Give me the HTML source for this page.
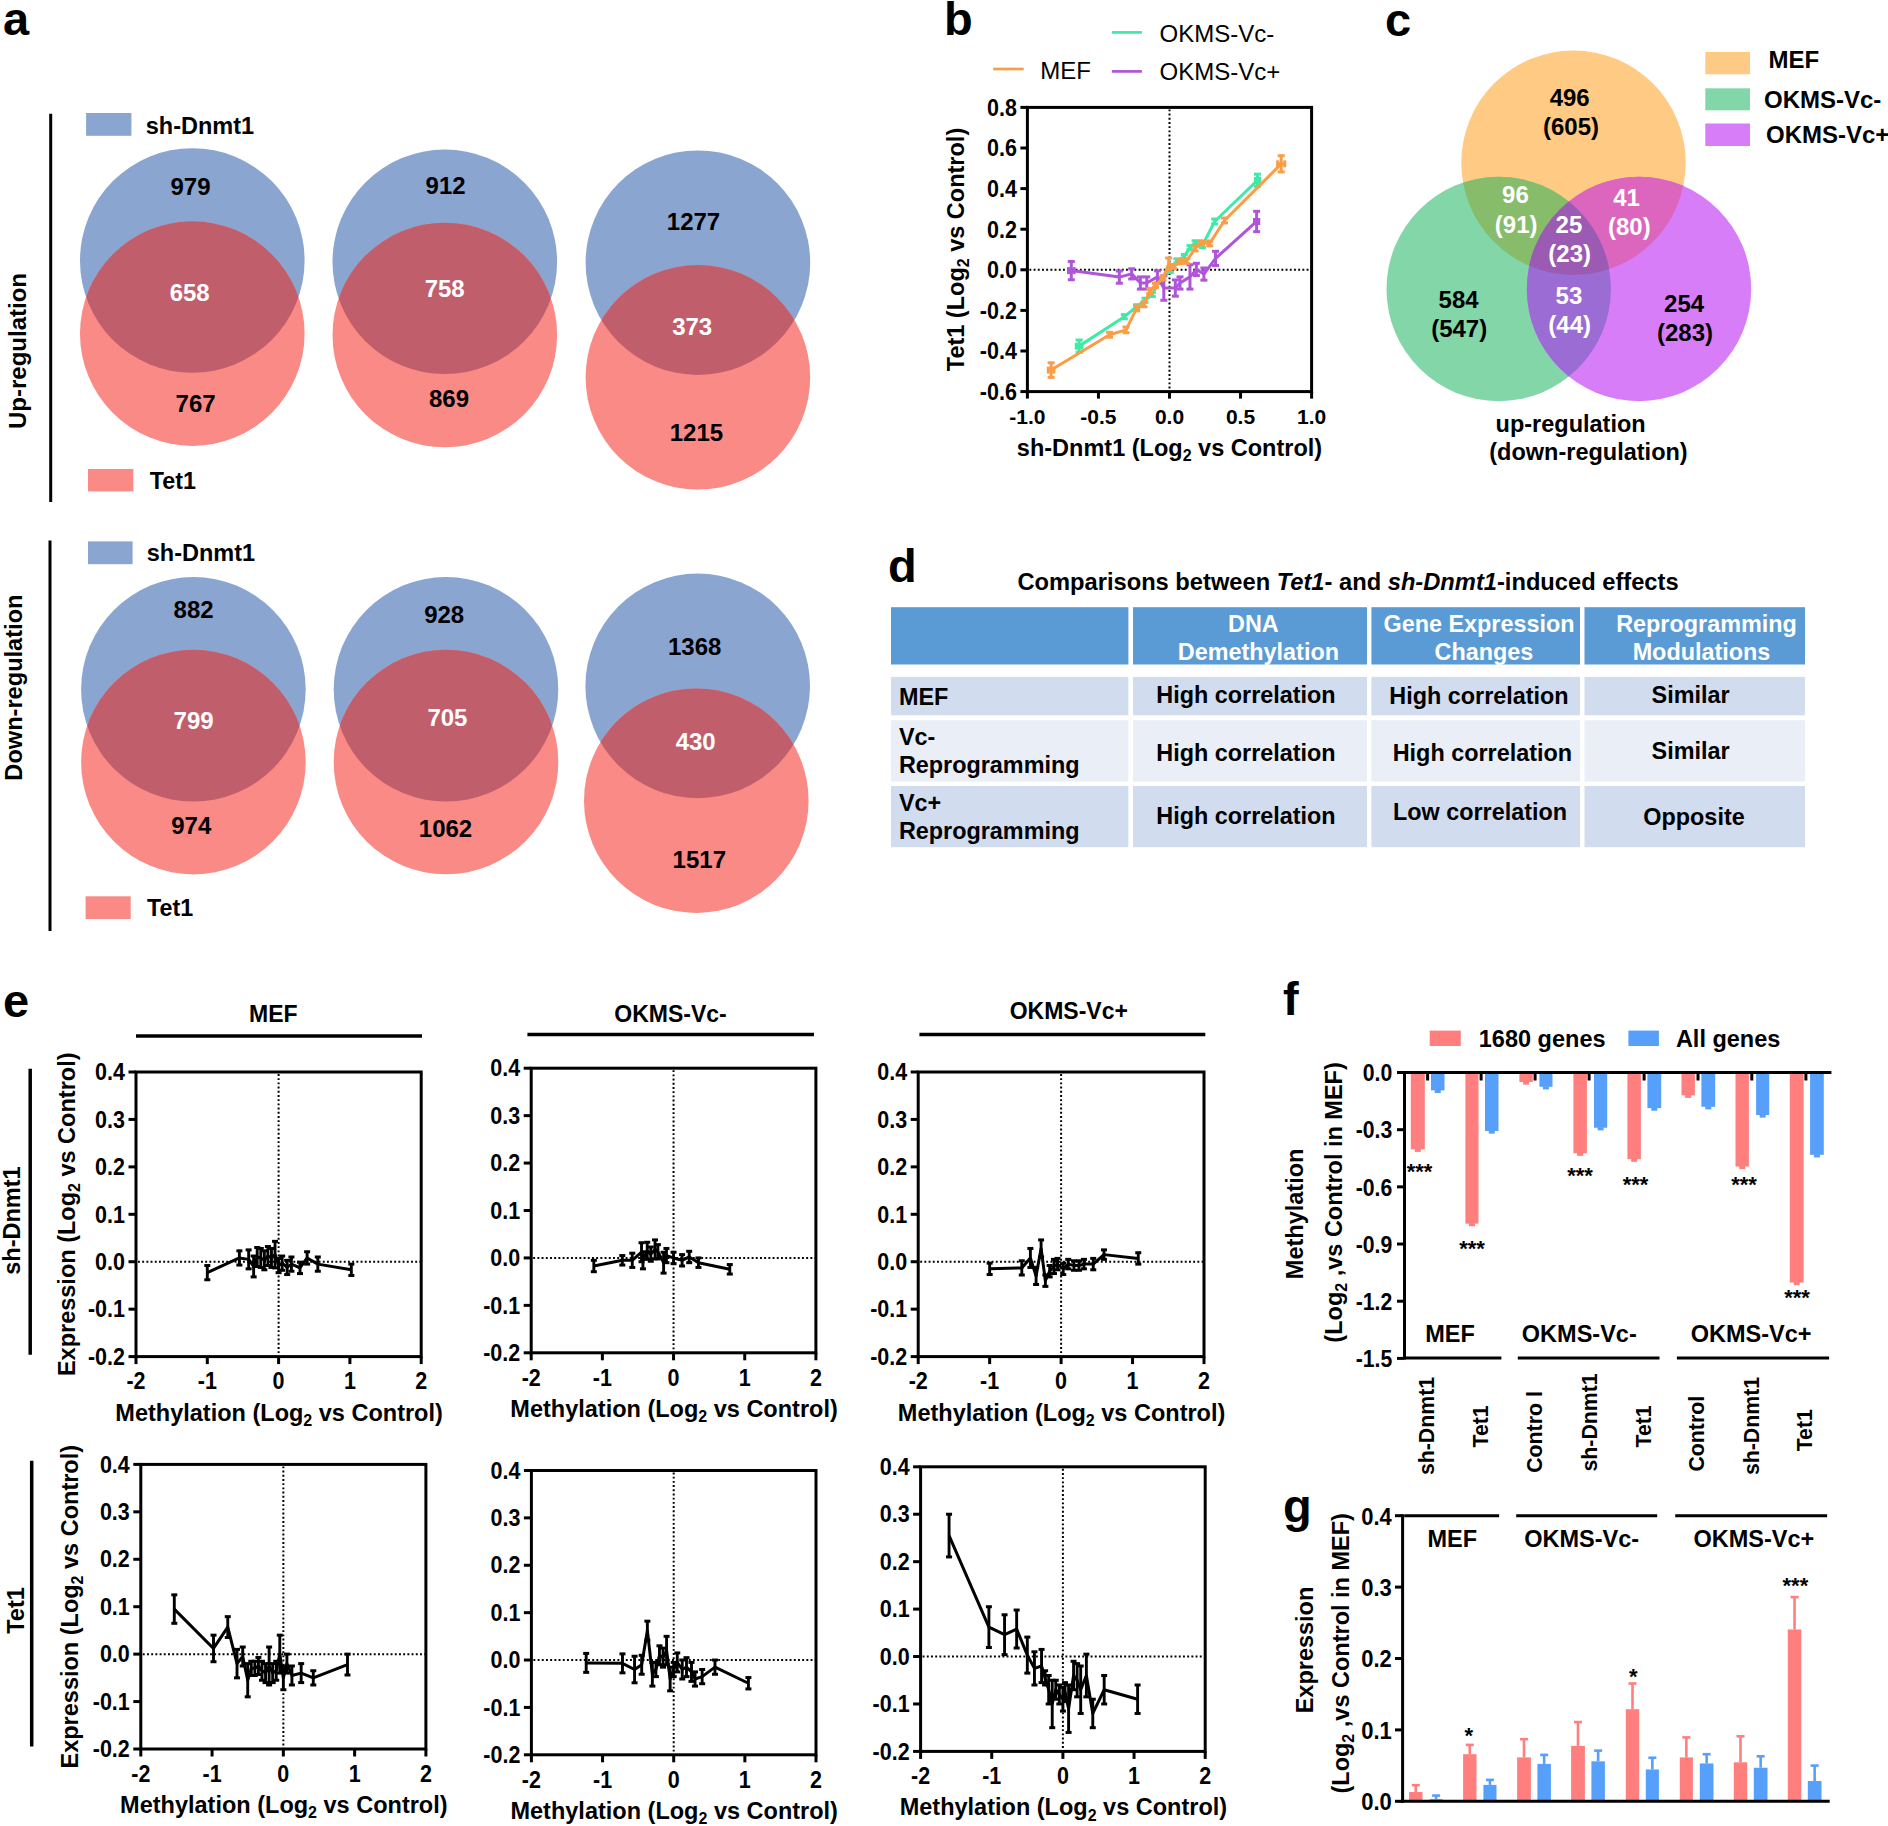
<!DOCTYPE html>
<html><head><meta charset="utf-8"><title>Figure</title>
<style>
html,body{margin:0;padding:0;background:#fff;}
body{width:1888px;height:1826px;overflow:hidden;}
svg{display:block;font-family:"Liberation Sans", Arial, sans-serif;}
</style></head><body>
<svg width="1888" height="1826" viewBox="0 0 1888 1826">
<rect width="1888" height="1826" fill="#fff"/>
<text x="3.00" y="35.30" font-size="47" font-weight="bold" text-anchor="start" fill="#000">a</text>
<line x1="50.70" y1="113.70" x2="50.70" y2="502.00" stroke="#000" stroke-width="3"/>
<text x="25.59" y="351.00" font-size="24" font-weight="bold" text-anchor="middle" fill="#000" transform="rotate(-90 25.59 351.00)">Up-regulation</text>
<rect x="86.10" y="113.00" width="45.30" height="22.80" fill="#8AA5CF"/>
<text x="145.80" y="133.70" font-size="23.5" font-weight="bold" text-anchor="start" fill="#000">sh-Dnmt1</text>
<rect x="88.00" y="469.00" width="45.30" height="22.40" fill="#F98A86"/>
<text x="149.80" y="489.14" font-size="23.3" font-weight="bold" text-anchor="start" fill="#000">Tet1</text>
<circle cx="192.30" cy="260.50" r="112.30" fill="#8AA5CF"/>
<circle cx="192.30" cy="333.60" r="112.30" fill="#F98A86"/>
<clipPath id="cp1"><circle cx="192.30" cy="260.50" r="112.30"/></clipPath>
<circle cx="192.30" cy="333.60" r="112.30" fill="#C05E6C" clip-path="url(#cp1)"/>
<circle cx="444.80" cy="261.80" r="112.30" fill="#8AA5CF"/>
<circle cx="444.80" cy="335.00" r="112.30" fill="#F98A86"/>
<clipPath id="cp2"><circle cx="444.80" cy="261.80" r="112.30"/></clipPath>
<circle cx="444.80" cy="335.00" r="112.30" fill="#C05E6C" clip-path="url(#cp2)"/>
<circle cx="697.90" cy="262.70" r="112.30" fill="#8AA5CF"/>
<circle cx="697.90" cy="377.30" r="112.30" fill="#F98A86"/>
<clipPath id="cp3"><circle cx="697.90" cy="262.70" r="112.30"/></clipPath>
<circle cx="697.90" cy="377.30" r="112.30" fill="#C05E6C" clip-path="url(#cp3)"/>
<text x="190.50" y="194.99" font-size="24" font-weight="bold" text-anchor="middle" fill="#000">979</text>
<text x="189.70" y="301.29" font-size="24" font-weight="bold" text-anchor="middle" fill="#fff">658</text>
<text x="195.60" y="411.89" font-size="24" font-weight="bold" text-anchor="middle" fill="#000">767</text>
<text x="445.60" y="193.59" font-size="24" font-weight="bold" text-anchor="middle" fill="#000">912</text>
<text x="444.70" y="297.49" font-size="24" font-weight="bold" text-anchor="middle" fill="#fff">758</text>
<text x="449.00" y="406.79" font-size="24" font-weight="bold" text-anchor="middle" fill="#000">869</text>
<text x="693.50" y="229.59" font-size="24" font-weight="bold" text-anchor="middle" fill="#000">1277</text>
<text x="692.20" y="334.79" font-size="24" font-weight="bold" text-anchor="middle" fill="#fff">373</text>
<text x="696.40" y="440.69" font-size="24" font-weight="bold" text-anchor="middle" fill="#000">1215</text>
<line x1="50.00" y1="540.50" x2="50.00" y2="931.00" stroke="#000" stroke-width="3"/>
<text x="21.65" y="687.60" font-size="23.6" font-weight="bold" text-anchor="middle" fill="#000" transform="rotate(-90 21.65 687.60)">Down-regulation</text>
<rect x="88.00" y="541.40" width="44.60" height="22.80" fill="#8AA5CF"/>
<text x="146.80" y="561.41" font-size="23.5" font-weight="bold" text-anchor="start" fill="#000">sh-Dnmt1</text>
<rect x="85.60" y="896.30" width="45.10" height="22.70" fill="#F98A86"/>
<text x="147.10" y="916.34" font-size="23.3" font-weight="bold" text-anchor="start" fill="#000">Tet1</text>
<circle cx="193.40" cy="689.30" r="112.30" fill="#8AA5CF"/>
<circle cx="193.40" cy="762.10" r="112.30" fill="#F98A86"/>
<clipPath id="cp4"><circle cx="193.40" cy="689.30" r="112.30"/></clipPath>
<circle cx="193.40" cy="762.10" r="112.30" fill="#C05E6C" clip-path="url(#cp4)"/>
<circle cx="446.00" cy="689.30" r="112.30" fill="#8AA5CF"/>
<circle cx="446.00" cy="762.00" r="112.30" fill="#F98A86"/>
<clipPath id="cp5"><circle cx="446.00" cy="689.30" r="112.30"/></clipPath>
<circle cx="446.00" cy="762.00" r="112.30" fill="#C05E6C" clip-path="url(#cp5)"/>
<circle cx="697.70" cy="685.90" r="112.30" fill="#8AA5CF"/>
<circle cx="696.30" cy="800.70" r="112.30" fill="#F98A86"/>
<clipPath id="cp6"><circle cx="697.70" cy="685.90" r="112.30"/></clipPath>
<circle cx="696.30" cy="800.70" r="112.30" fill="#C05E6C" clip-path="url(#cp6)"/>
<text x="193.60" y="618.29" font-size="24" font-weight="bold" text-anchor="middle" fill="#000">882</text>
<text x="193.60" y="728.99" font-size="24" font-weight="bold" text-anchor="middle" fill="#fff">799</text>
<text x="191.30" y="833.79" font-size="24" font-weight="bold" text-anchor="middle" fill="#000">974</text>
<text x="444.20" y="623.39" font-size="24" font-weight="bold" text-anchor="middle" fill="#000">928</text>
<text x="447.40" y="725.89" font-size="24" font-weight="bold" text-anchor="middle" fill="#fff">705</text>
<text x="445.50" y="836.99" font-size="24" font-weight="bold" text-anchor="middle" fill="#000">1062</text>
<text x="694.70" y="655.19" font-size="24" font-weight="bold" text-anchor="middle" fill="#000">1368</text>
<text x="695.70" y="750.49" font-size="24" font-weight="bold" text-anchor="middle" fill="#fff">430</text>
<text x="699.30" y="867.99" font-size="24" font-weight="bold" text-anchor="middle" fill="#000">1517</text>
<text x="944.00" y="34.50" font-size="47" font-weight="bold" text-anchor="start" fill="#000">b</text>
<line x1="993.20" y1="69.00" x2="1023.70" y2="69.00" stroke="#FA9D46" stroke-width="2.7"/>
<text x="1040.20" y="78.60" font-size="24" font-weight="normal" text-anchor="start" fill="#000">MEF</text>
<line x1="1111.90" y1="32.40" x2="1141.90" y2="32.40" stroke="#3EEAA6" stroke-width="2.7"/>
<text x="1159.50" y="42.20" font-size="24" font-weight="normal" text-anchor="start" fill="#000">OKMS-Vc-</text>
<line x1="1111.90" y1="71.40" x2="1141.90" y2="71.40" stroke="#AE55D9" stroke-width="2.7"/>
<text x="1159.50" y="80.30" font-size="24" font-weight="normal" text-anchor="start" fill="#000">OKMS-Vc+</text>
<line x1="1169.50" y1="109.40" x2="1169.50" y2="390.60" stroke="#000" stroke-width="2" stroke-dasharray="1.9 2.3"/>
<line x1="1029.40" y1="269.80" x2="1310.60" y2="269.80" stroke="#000" stroke-width="2" stroke-dasharray="1.9 2.3"/>
<rect x="1027.40" y="107.40" width="284.20" height="284.20" fill="none" stroke="#000" stroke-width="3"/>
<line x1="1020.40" y1="107.40" x2="1027.40" y2="107.40" stroke="#000" stroke-width="3"/>
<text x="1016.90" y="115.10" font-size="21.5" font-weight="bold" text-anchor="end" fill="#000" transform="matrix(1 0 0 1.08 0 -8.592)">0.8</text>
<line x1="1020.40" y1="148.00" x2="1027.40" y2="148.00" stroke="#000" stroke-width="3"/>
<text x="1016.90" y="155.70" font-size="21.5" font-weight="bold" text-anchor="end" fill="#000" transform="matrix(1 0 0 1.08 0 -11.840)">0.6</text>
<line x1="1020.40" y1="188.60" x2="1027.40" y2="188.60" stroke="#000" stroke-width="3"/>
<text x="1016.90" y="196.30" font-size="21.5" font-weight="bold" text-anchor="end" fill="#000" transform="matrix(1 0 0 1.08 0 -15.088)">0.4</text>
<line x1="1020.40" y1="229.20" x2="1027.40" y2="229.20" stroke="#000" stroke-width="3"/>
<text x="1016.90" y="236.90" font-size="21.5" font-weight="bold" text-anchor="end" fill="#000" transform="matrix(1 0 0 1.08 0 -18.336)">0.2</text>
<line x1="1020.40" y1="269.80" x2="1027.40" y2="269.80" stroke="#000" stroke-width="3"/>
<text x="1016.90" y="277.50" font-size="21.5" font-weight="bold" text-anchor="end" fill="#000" transform="matrix(1 0 0 1.08 0 -21.584)">0.0</text>
<line x1="1020.40" y1="310.40" x2="1027.40" y2="310.40" stroke="#000" stroke-width="3"/>
<text x="1016.90" y="318.10" font-size="21.5" font-weight="bold" text-anchor="end" fill="#000" transform="matrix(1 0 0 1.08 0 -24.832)">-0.2</text>
<line x1="1020.40" y1="351.00" x2="1027.40" y2="351.00" stroke="#000" stroke-width="3"/>
<text x="1016.90" y="358.70" font-size="21.5" font-weight="bold" text-anchor="end" fill="#000" transform="matrix(1 0 0 1.08 0 -28.080)">-0.4</text>
<line x1="1020.40" y1="391.60" x2="1027.40" y2="391.60" stroke="#000" stroke-width="3"/>
<text x="1016.90" y="399.30" font-size="21.5" font-weight="bold" text-anchor="end" fill="#000" transform="matrix(1 0 0 1.08 0 -31.328)">-0.6</text>
<line x1="1027.40" y1="391.60" x2="1027.40" y2="398.60" stroke="#000" stroke-width="3"/>
<text x="1027.40" y="423.80" font-size="21" font-weight="bold" text-anchor="middle" fill="#000">-1.0</text>
<line x1="1098.45" y1="391.60" x2="1098.45" y2="398.60" stroke="#000" stroke-width="3"/>
<text x="1098.45" y="423.80" font-size="21" font-weight="bold" text-anchor="middle" fill="#000">-0.5</text>
<line x1="1169.50" y1="391.60" x2="1169.50" y2="398.60" stroke="#000" stroke-width="3"/>
<text x="1169.50" y="423.80" font-size="21" font-weight="bold" text-anchor="middle" fill="#000">0.0</text>
<line x1="1240.55" y1="391.60" x2="1240.55" y2="398.60" stroke="#000" stroke-width="3"/>
<text x="1240.55" y="423.80" font-size="21" font-weight="bold" text-anchor="middle" fill="#000">0.5</text>
<line x1="1311.60" y1="391.60" x2="1311.60" y2="398.60" stroke="#000" stroke-width="3"/>
<text x="1311.60" y="423.80" font-size="21" font-weight="bold" text-anchor="middle" fill="#000">1.0</text>
<path d="M1079.12,346.13 L1124.31,316.69 L1136.67,306.75 L1144.92,300.25 L1152.31,294.57 L1159.55,279.75 L1170.35,270.61 L1176.89,260.87 L1184.28,256.61 L1189.96,247.67 L1195.08,242.80 L1202.47,245.24 L1214.69,221.49 L1257.46,180.28" fill="none" stroke="#3EEAA6" stroke-width="3" stroke-linejoin="round"/>
<line x1="1079.12" y1="340.04" x2="1079.12" y2="352.22" stroke="#3EEAA6" stroke-width="3"/>
<line x1="1075.62" y1="340.04" x2="1082.62" y2="340.04" stroke="#3EEAA6" stroke-width="3"/>
<line x1="1075.62" y1="352.22" x2="1082.62" y2="352.22" stroke="#3EEAA6" stroke-width="3"/>
<line x1="1076.28" y1="346.13" x2="1081.97" y2="346.13" stroke="#3EEAA6" stroke-width="3"/>
<line x1="1076.28" y1="342.63" x2="1076.28" y2="349.63" stroke="#3EEAA6" stroke-width="3"/>
<line x1="1081.97" y1="342.63" x2="1081.97" y2="349.63" stroke="#3EEAA6" stroke-width="3"/>
<line x1="1124.31" y1="314.66" x2="1124.31" y2="318.72" stroke="#3EEAA6" stroke-width="3"/>
<line x1="1120.81" y1="314.66" x2="1127.81" y2="314.66" stroke="#3EEAA6" stroke-width="3"/>
<line x1="1120.81" y1="318.72" x2="1127.81" y2="318.72" stroke="#3EEAA6" stroke-width="3"/>
<line x1="1136.67" y1="304.72" x2="1136.67" y2="308.78" stroke="#3EEAA6" stroke-width="3"/>
<line x1="1133.17" y1="304.72" x2="1140.17" y2="304.72" stroke="#3EEAA6" stroke-width="3"/>
<line x1="1133.17" y1="308.78" x2="1140.17" y2="308.78" stroke="#3EEAA6" stroke-width="3"/>
<line x1="1144.92" y1="298.22" x2="1144.92" y2="302.28" stroke="#3EEAA6" stroke-width="3"/>
<line x1="1141.42" y1="298.22" x2="1148.42" y2="298.22" stroke="#3EEAA6" stroke-width="3"/>
<line x1="1141.42" y1="302.28" x2="1148.42" y2="302.28" stroke="#3EEAA6" stroke-width="3"/>
<line x1="1152.31" y1="292.54" x2="1152.31" y2="296.60" stroke="#3EEAA6" stroke-width="3"/>
<line x1="1148.81" y1="292.54" x2="1155.81" y2="292.54" stroke="#3EEAA6" stroke-width="3"/>
<line x1="1148.81" y1="296.60" x2="1155.81" y2="296.60" stroke="#3EEAA6" stroke-width="3"/>
<line x1="1159.55" y1="277.72" x2="1159.55" y2="281.78" stroke="#3EEAA6" stroke-width="3"/>
<line x1="1156.05" y1="277.72" x2="1163.05" y2="277.72" stroke="#3EEAA6" stroke-width="3"/>
<line x1="1156.05" y1="281.78" x2="1163.05" y2="281.78" stroke="#3EEAA6" stroke-width="3"/>
<line x1="1170.35" y1="268.58" x2="1170.35" y2="272.64" stroke="#3EEAA6" stroke-width="3"/>
<line x1="1166.85" y1="268.58" x2="1173.85" y2="268.58" stroke="#3EEAA6" stroke-width="3"/>
<line x1="1166.85" y1="272.64" x2="1173.85" y2="272.64" stroke="#3EEAA6" stroke-width="3"/>
<line x1="1176.89" y1="258.84" x2="1176.89" y2="262.90" stroke="#3EEAA6" stroke-width="3"/>
<line x1="1173.39" y1="258.84" x2="1180.39" y2="258.84" stroke="#3EEAA6" stroke-width="3"/>
<line x1="1173.39" y1="262.90" x2="1180.39" y2="262.90" stroke="#3EEAA6" stroke-width="3"/>
<line x1="1184.28" y1="254.57" x2="1184.28" y2="258.63" stroke="#3EEAA6" stroke-width="3"/>
<line x1="1180.78" y1="254.57" x2="1187.78" y2="254.57" stroke="#3EEAA6" stroke-width="3"/>
<line x1="1180.78" y1="258.63" x2="1187.78" y2="258.63" stroke="#3EEAA6" stroke-width="3"/>
<line x1="1189.96" y1="245.64" x2="1189.96" y2="249.70" stroke="#3EEAA6" stroke-width="3"/>
<line x1="1186.46" y1="245.64" x2="1193.46" y2="245.64" stroke="#3EEAA6" stroke-width="3"/>
<line x1="1186.46" y1="249.70" x2="1193.46" y2="249.70" stroke="#3EEAA6" stroke-width="3"/>
<line x1="1195.08" y1="240.77" x2="1195.08" y2="244.83" stroke="#3EEAA6" stroke-width="3"/>
<line x1="1191.58" y1="240.77" x2="1198.58" y2="240.77" stroke="#3EEAA6" stroke-width="3"/>
<line x1="1191.58" y1="244.83" x2="1198.58" y2="244.83" stroke="#3EEAA6" stroke-width="3"/>
<line x1="1202.47" y1="242.80" x2="1202.47" y2="247.67" stroke="#3EEAA6" stroke-width="3"/>
<line x1="1198.97" y1="242.80" x2="1205.97" y2="242.80" stroke="#3EEAA6" stroke-width="3"/>
<line x1="1198.97" y1="247.67" x2="1205.97" y2="247.67" stroke="#3EEAA6" stroke-width="3"/>
<line x1="1214.69" y1="219.05" x2="1214.69" y2="223.92" stroke="#3EEAA6" stroke-width="3"/>
<line x1="1211.19" y1="219.05" x2="1218.19" y2="219.05" stroke="#3EEAA6" stroke-width="3"/>
<line x1="1211.19" y1="223.92" x2="1218.19" y2="223.92" stroke="#3EEAA6" stroke-width="3"/>
<line x1="1257.46" y1="174.19" x2="1257.46" y2="186.37" stroke="#3EEAA6" stroke-width="3"/>
<line x1="1253.96" y1="174.19" x2="1260.96" y2="174.19" stroke="#3EEAA6" stroke-width="3"/>
<line x1="1253.96" y1="186.37" x2="1260.96" y2="186.37" stroke="#3EEAA6" stroke-width="3"/>
<line x1="1255.33" y1="180.28" x2="1259.59" y2="180.28" stroke="#3EEAA6" stroke-width="3"/>
<line x1="1255.33" y1="176.78" x2="1255.33" y2="183.78" stroke="#3EEAA6" stroke-width="3"/>
<line x1="1259.59" y1="176.78" x2="1259.59" y2="183.78" stroke="#3EEAA6" stroke-width="3"/>
<path d="M1071.31,270.61 L1119.34,277.11 L1131.70,273.86 L1140.37,283.00 L1146.76,283.00 L1157.42,276.90 L1163.82,288.07 L1175.33,288.07 L1180.02,283.00 L1189.96,276.90 L1196.36,269.39 L1203.89,274.06 L1215.54,258.43 L1256.61,221.49" fill="none" stroke="#AE55D9" stroke-width="3" stroke-linejoin="round"/>
<line x1="1071.31" y1="261.48" x2="1071.31" y2="279.75" stroke="#AE55D9" stroke-width="3"/>
<line x1="1067.81" y1="261.48" x2="1074.81" y2="261.48" stroke="#AE55D9" stroke-width="3"/>
<line x1="1067.81" y1="279.75" x2="1074.81" y2="279.75" stroke="#AE55D9" stroke-width="3"/>
<line x1="1068.47" y1="270.61" x2="1074.15" y2="270.61" stroke="#AE55D9" stroke-width="3"/>
<line x1="1068.47" y1="267.11" x2="1068.47" y2="274.11" stroke="#AE55D9" stroke-width="3"/>
<line x1="1074.15" y1="267.11" x2="1074.15" y2="274.11" stroke="#AE55D9" stroke-width="3"/>
<line x1="1119.34" y1="271.02" x2="1119.34" y2="283.20" stroke="#AE55D9" stroke-width="3"/>
<line x1="1115.84" y1="271.02" x2="1122.84" y2="271.02" stroke="#AE55D9" stroke-width="3"/>
<line x1="1115.84" y1="283.20" x2="1122.84" y2="283.20" stroke="#AE55D9" stroke-width="3"/>
<line x1="1131.70" y1="268.78" x2="1131.70" y2="278.94" stroke="#AE55D9" stroke-width="3"/>
<line x1="1128.20" y1="268.78" x2="1135.20" y2="268.78" stroke="#AE55D9" stroke-width="3"/>
<line x1="1128.20" y1="278.94" x2="1135.20" y2="278.94" stroke="#AE55D9" stroke-width="3"/>
<line x1="1140.37" y1="276.90" x2="1140.37" y2="289.08" stroke="#AE55D9" stroke-width="3"/>
<line x1="1136.87" y1="276.90" x2="1143.87" y2="276.90" stroke="#AE55D9" stroke-width="3"/>
<line x1="1136.87" y1="289.08" x2="1143.87" y2="289.08" stroke="#AE55D9" stroke-width="3"/>
<line x1="1146.76" y1="276.90" x2="1146.76" y2="289.08" stroke="#AE55D9" stroke-width="3"/>
<line x1="1143.26" y1="276.90" x2="1150.26" y2="276.90" stroke="#AE55D9" stroke-width="3"/>
<line x1="1143.26" y1="289.08" x2="1150.26" y2="289.08" stroke="#AE55D9" stroke-width="3"/>
<line x1="1157.42" y1="270.81" x2="1157.42" y2="283.00" stroke="#AE55D9" stroke-width="3"/>
<line x1="1153.92" y1="270.81" x2="1160.92" y2="270.81" stroke="#AE55D9" stroke-width="3"/>
<line x1="1153.92" y1="283.00" x2="1160.92" y2="283.00" stroke="#AE55D9" stroke-width="3"/>
<line x1="1163.82" y1="275.89" x2="1163.82" y2="300.25" stroke="#AE55D9" stroke-width="3"/>
<line x1="1160.32" y1="275.89" x2="1167.32" y2="275.89" stroke="#AE55D9" stroke-width="3"/>
<line x1="1160.32" y1="300.25" x2="1167.32" y2="300.25" stroke="#AE55D9" stroke-width="3"/>
<line x1="1175.33" y1="279.95" x2="1175.33" y2="296.19" stroke="#AE55D9" stroke-width="3"/>
<line x1="1171.83" y1="279.95" x2="1178.83" y2="279.95" stroke="#AE55D9" stroke-width="3"/>
<line x1="1171.83" y1="296.19" x2="1178.83" y2="296.19" stroke="#AE55D9" stroke-width="3"/>
<line x1="1180.02" y1="276.90" x2="1180.02" y2="289.08" stroke="#AE55D9" stroke-width="3"/>
<line x1="1176.52" y1="276.90" x2="1183.52" y2="276.90" stroke="#AE55D9" stroke-width="3"/>
<line x1="1176.52" y1="289.08" x2="1183.52" y2="289.08" stroke="#AE55D9" stroke-width="3"/>
<line x1="1189.96" y1="264.73" x2="1189.96" y2="289.08" stroke="#AE55D9" stroke-width="3"/>
<line x1="1186.46" y1="264.73" x2="1193.46" y2="264.73" stroke="#AE55D9" stroke-width="3"/>
<line x1="1186.46" y1="289.08" x2="1193.46" y2="289.08" stroke="#AE55D9" stroke-width="3"/>
<line x1="1196.36" y1="263.30" x2="1196.36" y2="275.48" stroke="#AE55D9" stroke-width="3"/>
<line x1="1192.86" y1="263.30" x2="1199.86" y2="263.30" stroke="#AE55D9" stroke-width="3"/>
<line x1="1192.86" y1="275.48" x2="1199.86" y2="275.48" stroke="#AE55D9" stroke-width="3"/>
<line x1="1203.89" y1="267.97" x2="1203.89" y2="280.15" stroke="#AE55D9" stroke-width="3"/>
<line x1="1200.39" y1="267.97" x2="1207.39" y2="267.97" stroke="#AE55D9" stroke-width="3"/>
<line x1="1200.39" y1="280.15" x2="1207.39" y2="280.15" stroke="#AE55D9" stroke-width="3"/>
<line x1="1215.54" y1="251.33" x2="1215.54" y2="265.54" stroke="#AE55D9" stroke-width="3"/>
<line x1="1212.04" y1="251.33" x2="1219.04" y2="251.33" stroke="#AE55D9" stroke-width="3"/>
<line x1="1212.04" y1="265.54" x2="1219.04" y2="265.54" stroke="#AE55D9" stroke-width="3"/>
<line x1="1256.61" y1="211.34" x2="1256.61" y2="231.64" stroke="#AE55D9" stroke-width="3"/>
<line x1="1253.11" y1="211.34" x2="1260.11" y2="211.34" stroke="#AE55D9" stroke-width="3"/>
<line x1="1253.11" y1="231.64" x2="1260.11" y2="231.64" stroke="#AE55D9" stroke-width="3"/>
<line x1="1254.48" y1="221.49" x2="1258.74" y2="221.49" stroke="#AE55D9" stroke-width="3"/>
<line x1="1254.48" y1="217.99" x2="1254.48" y2="224.99" stroke="#AE55D9" stroke-width="3"/>
<line x1="1258.74" y1="217.99" x2="1258.74" y2="224.99" stroke="#AE55D9" stroke-width="3"/>
<path d="M1051.13,370.08 L1109.53,334.76 L1126.02,329.89 L1136.67,308.37 L1144.06,304.31 L1149.75,291.12 L1155.43,285.43 L1162.96,278.12 L1168.65,264.12 L1173.62,266.55 L1180.16,261.68 L1186.69,260.87 L1195.08,248.49 L1201.47,242.80 L1209.71,243.41 L1224.49,220.47 L1281.19,163.83" fill="none" stroke="#FA9D46" stroke-width="3" stroke-linejoin="round"/>
<line x1="1051.13" y1="362.77" x2="1051.13" y2="377.39" stroke="#FA9D46" stroke-width="3"/>
<line x1="1047.63" y1="362.77" x2="1054.63" y2="362.77" stroke="#FA9D46" stroke-width="3"/>
<line x1="1047.63" y1="377.39" x2="1054.63" y2="377.39" stroke="#FA9D46" stroke-width="3"/>
<line x1="1048.29" y1="370.08" x2="1053.97" y2="370.08" stroke="#FA9D46" stroke-width="3"/>
<line x1="1048.29" y1="366.58" x2="1048.29" y2="373.58" stroke="#FA9D46" stroke-width="3"/>
<line x1="1053.97" y1="366.58" x2="1053.97" y2="373.58" stroke="#FA9D46" stroke-width="3"/>
<line x1="1109.53" y1="332.32" x2="1109.53" y2="337.20" stroke="#FA9D46" stroke-width="3"/>
<line x1="1106.03" y1="332.32" x2="1113.03" y2="332.32" stroke="#FA9D46" stroke-width="3"/>
<line x1="1106.03" y1="337.20" x2="1113.03" y2="337.20" stroke="#FA9D46" stroke-width="3"/>
<line x1="1126.02" y1="327.05" x2="1126.02" y2="332.73" stroke="#FA9D46" stroke-width="3"/>
<line x1="1122.52" y1="327.05" x2="1129.52" y2="327.05" stroke="#FA9D46" stroke-width="3"/>
<line x1="1122.52" y1="332.73" x2="1129.52" y2="332.73" stroke="#FA9D46" stroke-width="3"/>
<line x1="1136.67" y1="305.93" x2="1136.67" y2="310.81" stroke="#FA9D46" stroke-width="3"/>
<line x1="1133.17" y1="305.93" x2="1140.17" y2="305.93" stroke="#FA9D46" stroke-width="3"/>
<line x1="1133.17" y1="310.81" x2="1140.17" y2="310.81" stroke="#FA9D46" stroke-width="3"/>
<line x1="1144.06" y1="301.87" x2="1144.06" y2="306.75" stroke="#FA9D46" stroke-width="3"/>
<line x1="1140.56" y1="301.87" x2="1147.56" y2="301.87" stroke="#FA9D46" stroke-width="3"/>
<line x1="1140.56" y1="306.75" x2="1147.56" y2="306.75" stroke="#FA9D46" stroke-width="3"/>
<line x1="1149.75" y1="288.68" x2="1149.75" y2="293.55" stroke="#FA9D46" stroke-width="3"/>
<line x1="1146.25" y1="288.68" x2="1153.25" y2="288.68" stroke="#FA9D46" stroke-width="3"/>
<line x1="1146.25" y1="293.55" x2="1153.25" y2="293.55" stroke="#FA9D46" stroke-width="3"/>
<line x1="1155.43" y1="283.40" x2="1155.43" y2="287.46" stroke="#FA9D46" stroke-width="3"/>
<line x1="1151.93" y1="283.40" x2="1158.93" y2="283.40" stroke="#FA9D46" stroke-width="3"/>
<line x1="1151.93" y1="287.46" x2="1158.93" y2="287.46" stroke="#FA9D46" stroke-width="3"/>
<line x1="1162.96" y1="276.09" x2="1162.96" y2="280.15" stroke="#FA9D46" stroke-width="3"/>
<line x1="1159.46" y1="276.09" x2="1166.46" y2="276.09" stroke="#FA9D46" stroke-width="3"/>
<line x1="1159.46" y1="280.15" x2="1166.46" y2="280.15" stroke="#FA9D46" stroke-width="3"/>
<line x1="1168.65" y1="258.03" x2="1168.65" y2="270.21" stroke="#FA9D46" stroke-width="3"/>
<line x1="1165.15" y1="258.03" x2="1172.15" y2="258.03" stroke="#FA9D46" stroke-width="3"/>
<line x1="1165.15" y1="270.21" x2="1172.15" y2="270.21" stroke="#FA9D46" stroke-width="3"/>
<line x1="1173.62" y1="264.52" x2="1173.62" y2="268.58" stroke="#FA9D46" stroke-width="3"/>
<line x1="1170.12" y1="264.52" x2="1177.12" y2="264.52" stroke="#FA9D46" stroke-width="3"/>
<line x1="1170.12" y1="268.58" x2="1177.12" y2="268.58" stroke="#FA9D46" stroke-width="3"/>
<line x1="1180.16" y1="259.65" x2="1180.16" y2="263.71" stroke="#FA9D46" stroke-width="3"/>
<line x1="1176.66" y1="259.65" x2="1183.66" y2="259.65" stroke="#FA9D46" stroke-width="3"/>
<line x1="1176.66" y1="263.71" x2="1183.66" y2="263.71" stroke="#FA9D46" stroke-width="3"/>
<line x1="1186.69" y1="258.43" x2="1186.69" y2="263.30" stroke="#FA9D46" stroke-width="3"/>
<line x1="1183.19" y1="258.43" x2="1190.19" y2="258.43" stroke="#FA9D46" stroke-width="3"/>
<line x1="1183.19" y1="263.30" x2="1190.19" y2="263.30" stroke="#FA9D46" stroke-width="3"/>
<line x1="1195.08" y1="246.05" x2="1195.08" y2="250.92" stroke="#FA9D46" stroke-width="3"/>
<line x1="1191.58" y1="246.05" x2="1198.58" y2="246.05" stroke="#FA9D46" stroke-width="3"/>
<line x1="1191.58" y1="250.92" x2="1198.58" y2="250.92" stroke="#FA9D46" stroke-width="3"/>
<line x1="1201.47" y1="240.77" x2="1201.47" y2="244.83" stroke="#FA9D46" stroke-width="3"/>
<line x1="1197.97" y1="240.77" x2="1204.97" y2="240.77" stroke="#FA9D46" stroke-width="3"/>
<line x1="1197.97" y1="244.83" x2="1204.97" y2="244.83" stroke="#FA9D46" stroke-width="3"/>
<line x1="1209.71" y1="240.97" x2="1209.71" y2="245.85" stroke="#FA9D46" stroke-width="3"/>
<line x1="1206.21" y1="240.97" x2="1213.21" y2="240.97" stroke="#FA9D46" stroke-width="3"/>
<line x1="1206.21" y1="245.85" x2="1213.21" y2="245.85" stroke="#FA9D46" stroke-width="3"/>
<line x1="1224.49" y1="218.03" x2="1224.49" y2="222.91" stroke="#FA9D46" stroke-width="3"/>
<line x1="1220.99" y1="218.03" x2="1227.99" y2="218.03" stroke="#FA9D46" stroke-width="3"/>
<line x1="1220.99" y1="222.91" x2="1227.99" y2="222.91" stroke="#FA9D46" stroke-width="3"/>
<line x1="1281.19" y1="155.71" x2="1281.19" y2="171.95" stroke="#FA9D46" stroke-width="3"/>
<line x1="1277.69" y1="155.71" x2="1284.69" y2="155.71" stroke="#FA9D46" stroke-width="3"/>
<line x1="1277.69" y1="171.95" x2="1284.69" y2="171.95" stroke="#FA9D46" stroke-width="3"/>
<line x1="1277.64" y1="163.83" x2="1284.74" y2="163.83" stroke="#FA9D46" stroke-width="3"/>
<line x1="1277.64" y1="160.33" x2="1277.64" y2="167.33" stroke="#FA9D46" stroke-width="3"/>
<line x1="1284.74" y1="160.33" x2="1284.74" y2="167.33" stroke="#FA9D46" stroke-width="3"/>
<text x="1169.50" y="456.00" font-size="23.5" font-weight="bold" text-anchor="middle">sh-Dnmt1 (Log<tspan font-size="16.0" dy="5.2">2</tspan><tspan dy="-5.2"> vs Control)</tspan></text>
<text x="964.11" y="249.50" font-size="23.5" font-weight="bold" text-anchor="middle" transform="rotate(-90 964.11 249.50)">Tet1 (Log<tspan font-size="16.0" dy="5.2">2</tspan><tspan dy="-5.2"> vs Control)</tspan></text>
<text x="1385.00" y="35.50" font-size="47" font-weight="bold" text-anchor="start" fill="#000">c</text>
<clipPath id="ccO"><circle cx="1573.5" cy="162.7" r="112.2"/></clipPath>
<clipPath id="ccG"><circle cx="1498.7" cy="289" r="112.2"/></clipPath>
<clipPath id="ccP"><circle cx="1639" cy="289" r="112.2"/></clipPath>
<circle cx="1573.50" cy="162.70" r="112.20" fill="#FECA84"/>
<circle cx="1498.70" cy="289.00" r="112.20" fill="#82D6A8"/>
<circle cx="1639.00" cy="289.00" r="112.20" fill="#D87DF8"/>
<circle cx="1498.70" cy="289.00" r="112.20" fill="#86BC6A" clip-path="url(#ccO)"/>
<circle cx="1639.00" cy="289.00" r="112.20" fill="#DC65BE" clip-path="url(#ccO)"/>
<circle cx="1639.00" cy="289.00" r="112.20" fill="#9B6CD3" clip-path="url(#ccG)"/>
<g clip-path="url(#ccO)"><circle cx="1639" cy="289" r="112.2" fill="#9B5BB2" clip-path="url(#ccG)"/></g>
<text x="1569.70" y="106.49" font-size="24" font-weight="bold" text-anchor="middle" fill="#000">496</text>
<text x="1571.00" y="135.29" font-size="24" font-weight="bold" text-anchor="middle" fill="#000">(605)</text>
<text x="1515.40" y="203.39" font-size="24" font-weight="bold" text-anchor="middle" fill="#fff">96</text>
<text x="1516.20" y="232.99" font-size="24" font-weight="bold" text-anchor="middle" fill="#fff">(91)</text>
<text x="1568.90" y="232.99" font-size="24" font-weight="bold" text-anchor="middle" fill="#fff">25</text>
<text x="1569.70" y="262.39" font-size="24" font-weight="bold" text-anchor="middle" fill="#fff">(23)</text>
<text x="1626.50" y="205.59" font-size="24" font-weight="bold" text-anchor="middle" fill="#fff">41</text>
<text x="1629.30" y="234.89" font-size="24" font-weight="bold" text-anchor="middle" fill="#fff">(80)</text>
<text x="1458.60" y="308.19" font-size="24" font-weight="bold" text-anchor="middle" fill="#000">584</text>
<text x="1459.20" y="337.29" font-size="24" font-weight="bold" text-anchor="middle" fill="#000">(547)</text>
<text x="1568.90" y="304.09" font-size="24" font-weight="bold" text-anchor="middle" fill="#fff">53</text>
<text x="1569.70" y="333.19" font-size="24" font-weight="bold" text-anchor="middle" fill="#fff">(44)</text>
<text x="1684.10" y="312.29" font-size="24" font-weight="bold" text-anchor="middle" fill="#000">254</text>
<text x="1685.00" y="341.39" font-size="24" font-weight="bold" text-anchor="middle" fill="#000">(283)</text>
<text x="1570.60" y="432.31" font-size="23.5" font-weight="bold" text-anchor="middle" fill="#000">up-regulation</text>
<text x="1588.50" y="459.71" font-size="23.5" font-weight="bold" text-anchor="middle" fill="#000">(down-regulation)</text>
<rect x="1705.30" y="52.00" width="44.70" height="22.30" fill="#FECA84"/>
<text x="1768.50" y="67.89" font-size="24" font-weight="bold" text-anchor="start" fill="#000">MEF</text>
<rect x="1705.30" y="88.30" width="44.70" height="22.00" fill="#82D6A8"/>
<text x="1764.00" y="107.89" font-size="24" font-weight="bold" text-anchor="start" fill="#000">OKMS-Vc-</text>
<rect x="1705.30" y="123.50" width="44.70" height="22.50" fill="#D87DF8"/>
<text x="1766.00" y="143.49" font-size="24" font-weight="bold" text-anchor="start" fill="#000">OKMS-Vc+</text>
<text x="888.00" y="582.00" font-size="47" font-weight="bold" text-anchor="start" fill="#000">d</text>
<text x="1348" y="589.5" font-size="23.7" font-weight="bold" text-anchor="middle">Comparisons between <tspan font-style="italic">Tet1</tspan>- and <tspan font-style="italic">sh-Dnmt1</tspan>-induced effects</text>
<rect x="891.00" y="607.20" width="237.40" height="57.30" fill="#5B9BD5"/>
<rect x="1133.00" y="607.20" width="234.00" height="57.30" fill="#5B9BD5"/>
<rect x="1371.40" y="607.20" width="208.60" height="57.30" fill="#5B9BD5"/>
<rect x="1584.50" y="607.20" width="220.50" height="57.30" fill="#5B9BD5"/>
<rect x="891.00" y="676.90" width="237.40" height="38.40" fill="#D1DCEF"/>
<rect x="1133.00" y="676.90" width="234.00" height="38.40" fill="#D1DCEF"/>
<rect x="1371.40" y="676.90" width="208.60" height="38.40" fill="#D1DCEF"/>
<rect x="1584.50" y="676.90" width="220.50" height="38.40" fill="#D1DCEF"/>
<rect x="891.00" y="720.20" width="237.40" height="61.30" fill="#E9EEF7"/>
<rect x="1133.00" y="720.20" width="234.00" height="61.30" fill="#E9EEF7"/>
<rect x="1371.40" y="720.20" width="208.60" height="61.30" fill="#E9EEF7"/>
<rect x="1584.50" y="720.20" width="220.50" height="61.30" fill="#E9EEF7"/>
<rect x="891.00" y="786.00" width="237.40" height="61.20" fill="#D1DCEF"/>
<rect x="1133.00" y="786.00" width="234.00" height="61.20" fill="#D1DCEF"/>
<rect x="1371.40" y="786.00" width="208.60" height="61.20" fill="#D1DCEF"/>
<rect x="1584.50" y="786.00" width="220.50" height="61.20" fill="#D1DCEF"/>
<text x="1253.40" y="631.98" font-size="23.4" font-weight="bold" text-anchor="middle" fill="#fff">DNA</text>
<text x="1258.40" y="660.38" font-size="23.4" font-weight="bold" text-anchor="middle" fill="#fff">Demethylation</text>
<text x="1479.00" y="631.98" font-size="23.4" font-weight="bold" text-anchor="middle" fill="#fff">Gene Expression</text>
<text x="1484.00" y="660.38" font-size="23.4" font-weight="bold" text-anchor="middle" fill="#fff">Changes</text>
<text x="1706.50" y="631.98" font-size="23.4" font-weight="bold" text-anchor="middle" fill="#fff">Reprogramming</text>
<text x="1701.50" y="660.38" font-size="23.4" font-weight="bold" text-anchor="middle" fill="#fff">Modulations</text>
<text x="898.90" y="705.18" font-size="23.4" font-weight="bold" text-anchor="start" fill="#000">MEF</text>
<text x="898.90" y="745.08" font-size="23.4" font-weight="bold" text-anchor="start" fill="#000">Vc-</text>
<text x="898.90" y="773.38" font-size="23.4" font-weight="bold" text-anchor="start" fill="#000">Reprogramming</text>
<text x="898.90" y="810.78" font-size="23.4" font-weight="bold" text-anchor="start" fill="#000">Vc+</text>
<text x="898.90" y="838.68" font-size="23.4" font-weight="bold" text-anchor="start" fill="#000">Reprogramming</text>
<text x="1246.00" y="702.68" font-size="23.4" font-weight="bold" text-anchor="middle" fill="#000">High correlation</text>
<text x="1479.00" y="704.18" font-size="23.4" font-weight="bold" text-anchor="middle" fill="#000">High correlation</text>
<text x="1690.60" y="702.68" font-size="23.4" font-weight="bold" text-anchor="middle" fill="#000">Similar</text>
<text x="1246.00" y="760.98" font-size="23.4" font-weight="bold" text-anchor="middle" fill="#000">High correlation</text>
<text x="1482.40" y="760.98" font-size="23.4" font-weight="bold" text-anchor="middle" fill="#000">High correlation</text>
<text x="1690.60" y="758.98" font-size="23.4" font-weight="bold" text-anchor="middle" fill="#000">Similar</text>
<text x="1246.00" y="823.68" font-size="23.4" font-weight="bold" text-anchor="middle" fill="#000">High correlation</text>
<text x="1480.00" y="819.68" font-size="23.4" font-weight="bold" text-anchor="middle" fill="#000">Low correlation</text>
<text x="1694.00" y="825.18" font-size="23.4" font-weight="bold" text-anchor="middle" fill="#000">Opposite</text>
<text x="3.00" y="1016.50" font-size="47" font-weight="bold" text-anchor="start" fill="#000">e</text>
<text x="273.30" y="1021.60" font-size="23" font-weight="bold" text-anchor="middle" fill="#000">MEF</text>
<text x="670.50" y="1021.60" font-size="23" font-weight="bold" text-anchor="middle" fill="#000">OKMS-Vc-</text>
<text x="1068.80" y="1019.00" font-size="23" font-weight="bold" text-anchor="middle" fill="#000">OKMS-Vc+</text>
<line x1="136.00" y1="1035.90" x2="422.00" y2="1035.90" stroke="#000" stroke-width="3.5"/>
<line x1="527.40" y1="1034.40" x2="814.00" y2="1034.40" stroke="#000" stroke-width="3.5"/>
<line x1="919.40" y1="1034.40" x2="1205.30" y2="1034.40" stroke="#000" stroke-width="3.5"/>
<line x1="30.20" y1="1068.70" x2="30.20" y2="1354.80" stroke="#000" stroke-width="3.5"/>
<text x="19.71" y="1220.60" font-size="23.5" font-weight="bold" text-anchor="middle" fill="#000" transform="rotate(-90 19.71 1220.60)">sh-Dnmt1</text>
<line x1="31.70" y1="1460.70" x2="31.70" y2="1746.50" stroke="#000" stroke-width="3.5"/>
<text x="24.21" y="1610.50" font-size="23.5" font-weight="bold" text-anchor="middle" fill="#000" transform="rotate(-90 24.21 1610.50)">Tet1</text>
<line x1="278.60" y1="1074.00" x2="278.60" y2="1355.60" stroke="#000" stroke-width="2" stroke-dasharray="1.9 2.3"/>
<line x1="138.00" y1="1261.73" x2="420.20" y2="1261.73" stroke="#000" stroke-width="2" stroke-dasharray="1.9 2.3"/>
<rect x="136.00" y="1072.00" width="285.20" height="284.60" fill="none" stroke="#000" stroke-width="3"/>
<line x1="128.50" y1="1072.00" x2="136.00" y2="1072.00" stroke="#000" stroke-width="3"/>
<text x="125.00" y="1079.70" font-size="21.5" font-weight="bold" text-anchor="end" fill="#000" transform="matrix(1 0 0 1.07 0 -75.040)">0.4</text>
<line x1="128.50" y1="1119.43" x2="136.00" y2="1119.43" stroke="#000" stroke-width="3"/>
<text x="125.00" y="1127.13" font-size="21.5" font-weight="bold" text-anchor="end" fill="#000" transform="matrix(1 0 0 1.07 0 -78.360)">0.3</text>
<line x1="128.50" y1="1166.87" x2="136.00" y2="1166.87" stroke="#000" stroke-width="3"/>
<text x="125.00" y="1174.56" font-size="21.5" font-weight="bold" text-anchor="end" fill="#000" transform="matrix(1 0 0 1.07 0 -81.681)">0.2</text>
<line x1="128.50" y1="1214.30" x2="136.00" y2="1214.30" stroke="#000" stroke-width="3"/>
<text x="125.00" y="1222.00" font-size="21.5" font-weight="bold" text-anchor="end" fill="#000" transform="matrix(1 0 0 1.07 0 -85.001)">0.1</text>
<line x1="128.50" y1="1261.73" x2="136.00" y2="1261.73" stroke="#000" stroke-width="3"/>
<text x="125.00" y="1269.43" font-size="21.5" font-weight="bold" text-anchor="end" fill="#000" transform="matrix(1 0 0 1.07 0 -88.321)">0.0</text>
<line x1="128.50" y1="1309.17" x2="136.00" y2="1309.17" stroke="#000" stroke-width="3"/>
<text x="125.00" y="1316.86" font-size="21.5" font-weight="bold" text-anchor="end" fill="#000" transform="matrix(1 0 0 1.07 0 -91.642)">-0.1</text>
<line x1="128.50" y1="1356.60" x2="136.00" y2="1356.60" stroke="#000" stroke-width="3"/>
<text x="125.00" y="1364.30" font-size="21.5" font-weight="bold" text-anchor="end" fill="#000" transform="matrix(1 0 0 1.07 0 -94.962)">-0.2</text>
<line x1="136.00" y1="1356.60" x2="136.00" y2="1364.10" stroke="#000" stroke-width="3"/>
<text x="136.00" y="1388.90" font-size="21.5" font-weight="bold" text-anchor="middle" fill="#000" transform="matrix(1 0 0 1.07 0 -96.684)">-2</text>
<line x1="207.30" y1="1356.60" x2="207.30" y2="1364.10" stroke="#000" stroke-width="3"/>
<text x="207.30" y="1388.90" font-size="21.5" font-weight="bold" text-anchor="middle" fill="#000" transform="matrix(1 0 0 1.07 0 -96.684)">-1</text>
<line x1="278.60" y1="1356.60" x2="278.60" y2="1364.10" stroke="#000" stroke-width="3"/>
<text x="278.60" y="1388.90" font-size="21.5" font-weight="bold" text-anchor="middle" fill="#000" transform="matrix(1 0 0 1.07 0 -96.684)">0</text>
<line x1="349.90" y1="1356.60" x2="349.90" y2="1364.10" stroke="#000" stroke-width="3"/>
<text x="349.90" y="1388.90" font-size="21.5" font-weight="bold" text-anchor="middle" fill="#000" transform="matrix(1 0 0 1.07 0 -96.684)">1</text>
<line x1="421.20" y1="1356.60" x2="421.20" y2="1364.10" stroke="#000" stroke-width="3"/>
<text x="421.20" y="1388.90" font-size="21.5" font-weight="bold" text-anchor="middle" fill="#000" transform="matrix(1 0 0 1.07 0 -96.684)">2</text>
<path d="M207.30,1272.64 L239.38,1257.94 L248.65,1259.36 L253.64,1266.48 L257.21,1256.99 L260.77,1257.94 L264.34,1260.31 L267.90,1256.04 L271.47,1257.94 L275.03,1254.62 L278.60,1265.53 L282.16,1263.16 L287.16,1267.43 L291.43,1264.11 L299.99,1267.90 L307.12,1257.94 L317.81,1264.11 L351.33,1269.80" fill="none" stroke="#000" stroke-width="3" stroke-linejoin="round"/>
<line x1="207.30" y1="1265.53" x2="207.30" y2="1279.76" stroke="#000" stroke-width="2.9"/>
<line x1="204.30" y1="1265.53" x2="210.30" y2="1265.53" stroke="#000" stroke-width="3"/>
<line x1="204.30" y1="1279.76" x2="210.30" y2="1279.76" stroke="#000" stroke-width="3"/>
<line x1="239.38" y1="1250.82" x2="239.38" y2="1265.05" stroke="#000" stroke-width="2.9"/>
<line x1="236.38" y1="1250.82" x2="242.38" y2="1250.82" stroke="#000" stroke-width="3"/>
<line x1="236.38" y1="1265.05" x2="242.38" y2="1265.05" stroke="#000" stroke-width="3"/>
<line x1="248.65" y1="1249.88" x2="248.65" y2="1268.85" stroke="#000" stroke-width="2.9"/>
<line x1="245.65" y1="1249.88" x2="251.65" y2="1249.88" stroke="#000" stroke-width="3"/>
<line x1="245.65" y1="1268.85" x2="251.65" y2="1268.85" stroke="#000" stroke-width="3"/>
<line x1="253.64" y1="1256.04" x2="253.64" y2="1276.91" stroke="#000" stroke-width="2.9"/>
<line x1="250.64" y1="1256.04" x2="256.64" y2="1256.04" stroke="#000" stroke-width="3"/>
<line x1="250.64" y1="1276.91" x2="256.64" y2="1276.91" stroke="#000" stroke-width="3"/>
<line x1="257.21" y1="1247.50" x2="257.21" y2="1266.48" stroke="#000" stroke-width="2.9"/>
<line x1="254.21" y1="1247.50" x2="260.21" y2="1247.50" stroke="#000" stroke-width="3"/>
<line x1="254.21" y1="1266.48" x2="260.21" y2="1266.48" stroke="#000" stroke-width="3"/>
<line x1="260.77" y1="1248.45" x2="260.77" y2="1267.43" stroke="#000" stroke-width="2.9"/>
<line x1="257.77" y1="1248.45" x2="263.77" y2="1248.45" stroke="#000" stroke-width="3"/>
<line x1="257.77" y1="1267.43" x2="263.77" y2="1267.43" stroke="#000" stroke-width="3"/>
<line x1="264.34" y1="1250.82" x2="264.34" y2="1269.80" stroke="#000" stroke-width="2.9"/>
<line x1="261.34" y1="1250.82" x2="267.34" y2="1250.82" stroke="#000" stroke-width="3"/>
<line x1="261.34" y1="1269.80" x2="267.34" y2="1269.80" stroke="#000" stroke-width="3"/>
<line x1="267.90" y1="1246.55" x2="267.90" y2="1265.53" stroke="#000" stroke-width="2.9"/>
<line x1="264.90" y1="1246.55" x2="270.90" y2="1246.55" stroke="#000" stroke-width="3"/>
<line x1="264.90" y1="1265.53" x2="270.90" y2="1265.53" stroke="#000" stroke-width="3"/>
<line x1="271.47" y1="1248.45" x2="271.47" y2="1267.43" stroke="#000" stroke-width="2.9"/>
<line x1="268.47" y1="1248.45" x2="274.47" y2="1248.45" stroke="#000" stroke-width="3"/>
<line x1="268.47" y1="1267.43" x2="274.47" y2="1267.43" stroke="#000" stroke-width="3"/>
<line x1="275.03" y1="1241.34" x2="275.03" y2="1267.90" stroke="#000" stroke-width="2.9"/>
<line x1="272.03" y1="1241.34" x2="278.03" y2="1241.34" stroke="#000" stroke-width="3"/>
<line x1="272.03" y1="1267.90" x2="278.03" y2="1267.90" stroke="#000" stroke-width="3"/>
<line x1="278.60" y1="1258.41" x2="278.60" y2="1272.64" stroke="#000" stroke-width="2.9"/>
<line x1="275.60" y1="1258.41" x2="281.60" y2="1258.41" stroke="#000" stroke-width="3"/>
<line x1="275.60" y1="1272.64" x2="281.60" y2="1272.64" stroke="#000" stroke-width="3"/>
<line x1="282.16" y1="1256.04" x2="282.16" y2="1270.27" stroke="#000" stroke-width="2.9"/>
<line x1="279.16" y1="1256.04" x2="285.16" y2="1256.04" stroke="#000" stroke-width="3"/>
<line x1="279.16" y1="1270.27" x2="285.16" y2="1270.27" stroke="#000" stroke-width="3"/>
<line x1="287.16" y1="1260.31" x2="287.16" y2="1274.54" stroke="#000" stroke-width="2.9"/>
<line x1="284.16" y1="1260.31" x2="290.16" y2="1260.31" stroke="#000" stroke-width="3"/>
<line x1="284.16" y1="1274.54" x2="290.16" y2="1274.54" stroke="#000" stroke-width="3"/>
<line x1="291.43" y1="1256.99" x2="291.43" y2="1271.22" stroke="#000" stroke-width="2.9"/>
<line x1="288.43" y1="1256.99" x2="294.43" y2="1256.99" stroke="#000" stroke-width="3"/>
<line x1="288.43" y1="1271.22" x2="294.43" y2="1271.22" stroke="#000" stroke-width="3"/>
<line x1="299.99" y1="1262.21" x2="299.99" y2="1273.59" stroke="#000" stroke-width="2.9"/>
<line x1="296.99" y1="1262.21" x2="302.99" y2="1262.21" stroke="#000" stroke-width="3"/>
<line x1="296.99" y1="1273.59" x2="302.99" y2="1273.59" stroke="#000" stroke-width="3"/>
<line x1="307.12" y1="1251.77" x2="307.12" y2="1264.11" stroke="#000" stroke-width="2.9"/>
<line x1="304.12" y1="1251.77" x2="310.12" y2="1251.77" stroke="#000" stroke-width="3"/>
<line x1="304.12" y1="1264.11" x2="310.12" y2="1264.11" stroke="#000" stroke-width="3"/>
<line x1="317.81" y1="1256.99" x2="317.81" y2="1271.22" stroke="#000" stroke-width="2.9"/>
<line x1="314.81" y1="1256.99" x2="320.81" y2="1256.99" stroke="#000" stroke-width="3"/>
<line x1="314.81" y1="1271.22" x2="320.81" y2="1271.22" stroke="#000" stroke-width="3"/>
<line x1="351.33" y1="1264.11" x2="351.33" y2="1275.49" stroke="#000" stroke-width="2.9"/>
<line x1="348.33" y1="1264.11" x2="354.33" y2="1264.11" stroke="#000" stroke-width="3"/>
<line x1="348.33" y1="1275.49" x2="354.33" y2="1275.49" stroke="#000" stroke-width="3"/>
<text x="279.10" y="1420.60" font-size="23.5" font-weight="bold" text-anchor="middle">Methylation (Log<tspan font-size="16.0" dy="5.2">2</tspan><tspan dy="-5.2"> vs Control)</tspan></text>
<text x="75.21" y="1214.30" font-size="23.5" font-weight="bold" text-anchor="middle" transform="rotate(-90 75.21 1214.30)">Expression (Log<tspan font-size="16.0" dy="5.2">2</tspan><tspan dy="-5.2"> vs Control)</tspan></text>
<line x1="673.55" y1="1070.20" x2="673.55" y2="1351.80" stroke="#000" stroke-width="2" stroke-dasharray="1.9 2.3"/>
<line x1="533.20" y1="1257.93" x2="814.90" y2="1257.93" stroke="#000" stroke-width="2" stroke-dasharray="1.9 2.3"/>
<rect x="531.20" y="1068.20" width="284.70" height="284.60" fill="none" stroke="#000" stroke-width="3"/>
<line x1="523.70" y1="1068.20" x2="531.20" y2="1068.20" stroke="#000" stroke-width="3"/>
<text x="520.20" y="1075.90" font-size="21.5" font-weight="bold" text-anchor="end" fill="#000" transform="matrix(1 0 0 1.07 0 -74.774)">0.4</text>
<line x1="523.70" y1="1115.63" x2="531.20" y2="1115.63" stroke="#000" stroke-width="3"/>
<text x="520.20" y="1123.33" font-size="21.5" font-weight="bold" text-anchor="end" fill="#000" transform="matrix(1 0 0 1.07 0 -78.094)">0.3</text>
<line x1="523.70" y1="1163.07" x2="531.20" y2="1163.07" stroke="#000" stroke-width="3"/>
<text x="520.20" y="1170.76" font-size="21.5" font-weight="bold" text-anchor="end" fill="#000" transform="matrix(1 0 0 1.07 0 -81.415)">0.2</text>
<line x1="523.70" y1="1210.50" x2="531.20" y2="1210.50" stroke="#000" stroke-width="3"/>
<text x="520.20" y="1218.20" font-size="21.5" font-weight="bold" text-anchor="end" fill="#000" transform="matrix(1 0 0 1.07 0 -84.735)">0.1</text>
<line x1="523.70" y1="1257.93" x2="531.20" y2="1257.93" stroke="#000" stroke-width="3"/>
<text x="520.20" y="1265.63" font-size="21.5" font-weight="bold" text-anchor="end" fill="#000" transform="matrix(1 0 0 1.07 0 -88.055)">0.0</text>
<line x1="523.70" y1="1305.37" x2="531.20" y2="1305.37" stroke="#000" stroke-width="3"/>
<text x="520.20" y="1313.06" font-size="21.5" font-weight="bold" text-anchor="end" fill="#000" transform="matrix(1 0 0 1.07 0 -91.376)">-0.1</text>
<line x1="523.70" y1="1352.80" x2="531.20" y2="1352.80" stroke="#000" stroke-width="3"/>
<text x="520.20" y="1360.50" font-size="21.5" font-weight="bold" text-anchor="end" fill="#000" transform="matrix(1 0 0 1.07 0 -94.696)">-0.2</text>
<line x1="531.20" y1="1352.80" x2="531.20" y2="1360.30" stroke="#000" stroke-width="3"/>
<text x="531.20" y="1385.10" font-size="21.5" font-weight="bold" text-anchor="middle" fill="#000" transform="matrix(1 0 0 1.07 0 -96.418)">-2</text>
<line x1="602.38" y1="1352.80" x2="602.38" y2="1360.30" stroke="#000" stroke-width="3"/>
<text x="602.38" y="1385.10" font-size="21.5" font-weight="bold" text-anchor="middle" fill="#000" transform="matrix(1 0 0 1.07 0 -96.418)">-1</text>
<line x1="673.55" y1="1352.80" x2="673.55" y2="1360.30" stroke="#000" stroke-width="3"/>
<text x="673.55" y="1385.10" font-size="21.5" font-weight="bold" text-anchor="middle" fill="#000" transform="matrix(1 0 0 1.07 0 -96.418)">0</text>
<line x1="744.73" y1="1352.80" x2="744.73" y2="1360.30" stroke="#000" stroke-width="3"/>
<text x="744.73" y="1385.10" font-size="21.5" font-weight="bold" text-anchor="middle" fill="#000" transform="matrix(1 0 0 1.07 0 -96.418)">1</text>
<line x1="815.90" y1="1352.80" x2="815.90" y2="1360.30" stroke="#000" stroke-width="3"/>
<text x="815.90" y="1385.10" font-size="21.5" font-weight="bold" text-anchor="middle" fill="#000" transform="matrix(1 0 0 1.07 0 -96.418)">2</text>
<path d="M593.83,1266.00 L622.30,1260.31 L632.27,1260.31 L641.52,1252.24 L642.94,1260.31 L647.22,1250.82 L650.77,1254.14 L655.04,1249.40 L657.89,1251.77 L663.59,1262.68 L666.43,1255.56 L673.55,1257.93 L682.09,1260.31 L689.21,1256.98 L698.46,1262.68 L729.78,1269.32" fill="none" stroke="#000" stroke-width="3" stroke-linejoin="round"/>
<line x1="593.83" y1="1260.31" x2="593.83" y2="1271.69" stroke="#000" stroke-width="2.9"/>
<line x1="590.83" y1="1260.31" x2="596.83" y2="1260.31" stroke="#000" stroke-width="3"/>
<line x1="590.83" y1="1271.69" x2="596.83" y2="1271.69" stroke="#000" stroke-width="3"/>
<line x1="622.30" y1="1255.56" x2="622.30" y2="1265.05" stroke="#000" stroke-width="2.9"/>
<line x1="619.30" y1="1255.56" x2="625.30" y2="1255.56" stroke="#000" stroke-width="3"/>
<line x1="619.30" y1="1265.05" x2="625.30" y2="1265.05" stroke="#000" stroke-width="3"/>
<line x1="632.27" y1="1253.19" x2="632.27" y2="1267.42" stroke="#000" stroke-width="2.9"/>
<line x1="629.27" y1="1253.19" x2="635.27" y2="1253.19" stroke="#000" stroke-width="3"/>
<line x1="629.27" y1="1267.42" x2="635.27" y2="1267.42" stroke="#000" stroke-width="3"/>
<line x1="641.52" y1="1242.75" x2="641.52" y2="1261.73" stroke="#000" stroke-width="2.9"/>
<line x1="638.52" y1="1242.75" x2="644.52" y2="1242.75" stroke="#000" stroke-width="3"/>
<line x1="638.52" y1="1261.73" x2="644.52" y2="1261.73" stroke="#000" stroke-width="3"/>
<line x1="642.94" y1="1251.77" x2="642.94" y2="1268.84" stroke="#000" stroke-width="2.9"/>
<line x1="639.94" y1="1251.77" x2="645.94" y2="1251.77" stroke="#000" stroke-width="3"/>
<line x1="639.94" y1="1268.84" x2="645.94" y2="1268.84" stroke="#000" stroke-width="3"/>
<line x1="647.22" y1="1242.28" x2="647.22" y2="1259.36" stroke="#000" stroke-width="2.9"/>
<line x1="644.22" y1="1242.28" x2="650.22" y2="1242.28" stroke="#000" stroke-width="3"/>
<line x1="644.22" y1="1259.36" x2="650.22" y2="1259.36" stroke="#000" stroke-width="3"/>
<line x1="650.77" y1="1247.02" x2="650.77" y2="1261.25" stroke="#000" stroke-width="2.9"/>
<line x1="647.77" y1="1247.02" x2="653.77" y2="1247.02" stroke="#000" stroke-width="3"/>
<line x1="647.77" y1="1261.25" x2="653.77" y2="1261.25" stroke="#000" stroke-width="3"/>
<line x1="655.04" y1="1239.91" x2="655.04" y2="1258.88" stroke="#000" stroke-width="2.9"/>
<line x1="652.04" y1="1239.91" x2="658.04" y2="1239.91" stroke="#000" stroke-width="3"/>
<line x1="652.04" y1="1258.88" x2="658.04" y2="1258.88" stroke="#000" stroke-width="3"/>
<line x1="657.89" y1="1244.65" x2="657.89" y2="1258.88" stroke="#000" stroke-width="2.9"/>
<line x1="654.89" y1="1244.65" x2="660.89" y2="1244.65" stroke="#000" stroke-width="3"/>
<line x1="654.89" y1="1258.88" x2="660.89" y2="1258.88" stroke="#000" stroke-width="3"/>
<line x1="663.59" y1="1252.24" x2="663.59" y2="1273.11" stroke="#000" stroke-width="2.9"/>
<line x1="660.59" y1="1252.24" x2="666.59" y2="1252.24" stroke="#000" stroke-width="3"/>
<line x1="660.59" y1="1273.11" x2="666.59" y2="1273.11" stroke="#000" stroke-width="3"/>
<line x1="666.43" y1="1248.45" x2="666.43" y2="1262.68" stroke="#000" stroke-width="2.9"/>
<line x1="663.43" y1="1248.45" x2="669.43" y2="1248.45" stroke="#000" stroke-width="3"/>
<line x1="663.43" y1="1262.68" x2="669.43" y2="1262.68" stroke="#000" stroke-width="3"/>
<line x1="673.55" y1="1252.24" x2="673.55" y2="1263.63" stroke="#000" stroke-width="2.9"/>
<line x1="670.55" y1="1252.24" x2="676.55" y2="1252.24" stroke="#000" stroke-width="3"/>
<line x1="670.55" y1="1263.63" x2="676.55" y2="1263.63" stroke="#000" stroke-width="3"/>
<line x1="682.09" y1="1254.61" x2="682.09" y2="1266.00" stroke="#000" stroke-width="2.9"/>
<line x1="679.09" y1="1254.61" x2="685.09" y2="1254.61" stroke="#000" stroke-width="3"/>
<line x1="679.09" y1="1266.00" x2="685.09" y2="1266.00" stroke="#000" stroke-width="3"/>
<line x1="689.21" y1="1251.29" x2="689.21" y2="1262.68" stroke="#000" stroke-width="2.9"/>
<line x1="686.21" y1="1251.29" x2="692.21" y2="1251.29" stroke="#000" stroke-width="3"/>
<line x1="686.21" y1="1262.68" x2="692.21" y2="1262.68" stroke="#000" stroke-width="3"/>
<line x1="698.46" y1="1257.93" x2="698.46" y2="1267.42" stroke="#000" stroke-width="2.9"/>
<line x1="695.46" y1="1257.93" x2="701.46" y2="1257.93" stroke="#000" stroke-width="3"/>
<line x1="695.46" y1="1267.42" x2="701.46" y2="1267.42" stroke="#000" stroke-width="3"/>
<line x1="729.78" y1="1264.57" x2="729.78" y2="1274.06" stroke="#000" stroke-width="2.9"/>
<line x1="726.78" y1="1264.57" x2="732.78" y2="1264.57" stroke="#000" stroke-width="3"/>
<line x1="726.78" y1="1274.06" x2="732.78" y2="1274.06" stroke="#000" stroke-width="3"/>
<text x="674.05" y="1416.80" font-size="23.5" font-weight="bold" text-anchor="middle">Methylation (Log<tspan font-size="16.0" dy="5.2">2</tspan><tspan dy="-5.2"> vs Control)</tspan></text>
<line x1="1061.10" y1="1074.00" x2="1061.10" y2="1355.60" stroke="#000" stroke-width="2" stroke-dasharray="1.9 2.3"/>
<line x1="920.20" y1="1261.73" x2="1203.00" y2="1261.73" stroke="#000" stroke-width="2" stroke-dasharray="1.9 2.3"/>
<rect x="918.20" y="1072.00" width="285.80" height="284.60" fill="none" stroke="#000" stroke-width="3"/>
<line x1="910.70" y1="1072.00" x2="918.20" y2="1072.00" stroke="#000" stroke-width="3"/>
<text x="907.20" y="1079.70" font-size="21.5" font-weight="bold" text-anchor="end" fill="#000" transform="matrix(1 0 0 1.07 0 -75.040)">0.4</text>
<line x1="910.70" y1="1119.43" x2="918.20" y2="1119.43" stroke="#000" stroke-width="3"/>
<text x="907.20" y="1127.13" font-size="21.5" font-weight="bold" text-anchor="end" fill="#000" transform="matrix(1 0 0 1.07 0 -78.360)">0.3</text>
<line x1="910.70" y1="1166.87" x2="918.20" y2="1166.87" stroke="#000" stroke-width="3"/>
<text x="907.20" y="1174.56" font-size="21.5" font-weight="bold" text-anchor="end" fill="#000" transform="matrix(1 0 0 1.07 0 -81.681)">0.2</text>
<line x1="910.70" y1="1214.30" x2="918.20" y2="1214.30" stroke="#000" stroke-width="3"/>
<text x="907.20" y="1222.00" font-size="21.5" font-weight="bold" text-anchor="end" fill="#000" transform="matrix(1 0 0 1.07 0 -85.001)">0.1</text>
<line x1="910.70" y1="1261.73" x2="918.20" y2="1261.73" stroke="#000" stroke-width="3"/>
<text x="907.20" y="1269.43" font-size="21.5" font-weight="bold" text-anchor="end" fill="#000" transform="matrix(1 0 0 1.07 0 -88.321)">0.0</text>
<line x1="910.70" y1="1309.17" x2="918.20" y2="1309.17" stroke="#000" stroke-width="3"/>
<text x="907.20" y="1316.86" font-size="21.5" font-weight="bold" text-anchor="end" fill="#000" transform="matrix(1 0 0 1.07 0 -91.642)">-0.1</text>
<line x1="910.70" y1="1356.60" x2="918.20" y2="1356.60" stroke="#000" stroke-width="3"/>
<text x="907.20" y="1364.30" font-size="21.5" font-weight="bold" text-anchor="end" fill="#000" transform="matrix(1 0 0 1.07 0 -94.962)">-0.2</text>
<line x1="918.20" y1="1356.60" x2="918.20" y2="1364.10" stroke="#000" stroke-width="3"/>
<text x="918.20" y="1388.90" font-size="21.5" font-weight="bold" text-anchor="middle" fill="#000" transform="matrix(1 0 0 1.07 0 -96.684)">-2</text>
<line x1="989.65" y1="1356.60" x2="989.65" y2="1364.10" stroke="#000" stroke-width="3"/>
<text x="989.65" y="1388.90" font-size="21.5" font-weight="bold" text-anchor="middle" fill="#000" transform="matrix(1 0 0 1.07 0 -96.684)">-1</text>
<line x1="1061.10" y1="1356.60" x2="1061.10" y2="1364.10" stroke="#000" stroke-width="3"/>
<text x="1061.10" y="1388.90" font-size="21.5" font-weight="bold" text-anchor="middle" fill="#000" transform="matrix(1 0 0 1.07 0 -96.684)">0</text>
<line x1="1132.55" y1="1356.60" x2="1132.55" y2="1364.10" stroke="#000" stroke-width="3"/>
<text x="1132.55" y="1388.90" font-size="21.5" font-weight="bold" text-anchor="middle" fill="#000" transform="matrix(1 0 0 1.07 0 -96.684)">1</text>
<line x1="1204.00" y1="1356.60" x2="1204.00" y2="1364.10" stroke="#000" stroke-width="3"/>
<text x="1204.00" y="1388.90" font-size="21.5" font-weight="bold" text-anchor="middle" fill="#000" transform="matrix(1 0 0 1.07 0 -96.684)">2</text>
<path d="M989.65,1268.85 L1021.80,1267.90 L1030.38,1257.94 L1036.09,1275.96 L1041.09,1248.45 L1045.38,1280.71 L1049.67,1271.22 L1053.95,1266.48 L1057.53,1264.11 L1063.24,1268.85 L1068.25,1264.11 L1073.96,1265.53 L1078.96,1265.53 L1083.96,1264.11 L1093.25,1264.11 L1103.97,1254.62 L1138.27,1258.41" fill="none" stroke="#000" stroke-width="3" stroke-linejoin="round"/>
<line x1="989.65" y1="1263.16" x2="989.65" y2="1274.54" stroke="#000" stroke-width="2.9"/>
<line x1="986.65" y1="1263.16" x2="992.65" y2="1263.16" stroke="#000" stroke-width="3"/>
<line x1="986.65" y1="1274.54" x2="992.65" y2="1274.54" stroke="#000" stroke-width="3"/>
<line x1="1021.80" y1="1260.78" x2="1021.80" y2="1275.01" stroke="#000" stroke-width="2.9"/>
<line x1="1018.80" y1="1260.78" x2="1024.80" y2="1260.78" stroke="#000" stroke-width="3"/>
<line x1="1018.80" y1="1275.01" x2="1024.80" y2="1275.01" stroke="#000" stroke-width="3"/>
<line x1="1030.38" y1="1248.45" x2="1030.38" y2="1267.43" stroke="#000" stroke-width="2.9"/>
<line x1="1027.38" y1="1248.45" x2="1033.38" y2="1248.45" stroke="#000" stroke-width="3"/>
<line x1="1027.38" y1="1267.43" x2="1033.38" y2="1267.43" stroke="#000" stroke-width="3"/>
<line x1="1036.09" y1="1267.43" x2="1036.09" y2="1284.50" stroke="#000" stroke-width="2.9"/>
<line x1="1033.09" y1="1267.43" x2="1039.09" y2="1267.43" stroke="#000" stroke-width="3"/>
<line x1="1033.09" y1="1284.50" x2="1039.09" y2="1284.50" stroke="#000" stroke-width="3"/>
<line x1="1041.09" y1="1239.91" x2="1041.09" y2="1256.99" stroke="#000" stroke-width="2.9"/>
<line x1="1038.09" y1="1239.91" x2="1044.09" y2="1239.91" stroke="#000" stroke-width="3"/>
<line x1="1038.09" y1="1256.99" x2="1044.09" y2="1256.99" stroke="#000" stroke-width="3"/>
<line x1="1045.38" y1="1275.01" x2="1045.38" y2="1286.40" stroke="#000" stroke-width="2.9"/>
<line x1="1042.38" y1="1275.01" x2="1048.38" y2="1275.01" stroke="#000" stroke-width="3"/>
<line x1="1042.38" y1="1286.40" x2="1048.38" y2="1286.40" stroke="#000" stroke-width="3"/>
<line x1="1049.67" y1="1265.53" x2="1049.67" y2="1276.91" stroke="#000" stroke-width="2.9"/>
<line x1="1046.67" y1="1265.53" x2="1052.67" y2="1265.53" stroke="#000" stroke-width="3"/>
<line x1="1046.67" y1="1276.91" x2="1052.67" y2="1276.91" stroke="#000" stroke-width="3"/>
<line x1="1053.95" y1="1259.36" x2="1053.95" y2="1273.59" stroke="#000" stroke-width="2.9"/>
<line x1="1050.95" y1="1259.36" x2="1056.95" y2="1259.36" stroke="#000" stroke-width="3"/>
<line x1="1050.95" y1="1273.59" x2="1056.95" y2="1273.59" stroke="#000" stroke-width="3"/>
<line x1="1057.53" y1="1258.41" x2="1057.53" y2="1269.80" stroke="#000" stroke-width="2.9"/>
<line x1="1054.53" y1="1258.41" x2="1060.53" y2="1258.41" stroke="#000" stroke-width="3"/>
<line x1="1054.53" y1="1269.80" x2="1060.53" y2="1269.80" stroke="#000" stroke-width="3"/>
<line x1="1063.24" y1="1263.16" x2="1063.24" y2="1274.54" stroke="#000" stroke-width="2.9"/>
<line x1="1060.24" y1="1263.16" x2="1066.24" y2="1263.16" stroke="#000" stroke-width="3"/>
<line x1="1060.24" y1="1274.54" x2="1066.24" y2="1274.54" stroke="#000" stroke-width="3"/>
<line x1="1068.25" y1="1259.36" x2="1068.25" y2="1268.85" stroke="#000" stroke-width="2.9"/>
<line x1="1065.25" y1="1259.36" x2="1071.25" y2="1259.36" stroke="#000" stroke-width="3"/>
<line x1="1065.25" y1="1268.85" x2="1071.25" y2="1268.85" stroke="#000" stroke-width="3"/>
<line x1="1073.96" y1="1260.78" x2="1073.96" y2="1270.27" stroke="#000" stroke-width="2.9"/>
<line x1="1070.96" y1="1260.78" x2="1076.96" y2="1260.78" stroke="#000" stroke-width="3"/>
<line x1="1070.96" y1="1270.27" x2="1076.96" y2="1270.27" stroke="#000" stroke-width="3"/>
<line x1="1078.96" y1="1260.78" x2="1078.96" y2="1270.27" stroke="#000" stroke-width="2.9"/>
<line x1="1075.96" y1="1260.78" x2="1081.96" y2="1260.78" stroke="#000" stroke-width="3"/>
<line x1="1075.96" y1="1270.27" x2="1081.96" y2="1270.27" stroke="#000" stroke-width="3"/>
<line x1="1083.96" y1="1259.36" x2="1083.96" y2="1268.85" stroke="#000" stroke-width="2.9"/>
<line x1="1080.96" y1="1259.36" x2="1086.96" y2="1259.36" stroke="#000" stroke-width="3"/>
<line x1="1080.96" y1="1268.85" x2="1086.96" y2="1268.85" stroke="#000" stroke-width="3"/>
<line x1="1093.25" y1="1258.41" x2="1093.25" y2="1269.80" stroke="#000" stroke-width="2.9"/>
<line x1="1090.25" y1="1258.41" x2="1096.25" y2="1258.41" stroke="#000" stroke-width="3"/>
<line x1="1090.25" y1="1269.80" x2="1096.25" y2="1269.80" stroke="#000" stroke-width="3"/>
<line x1="1103.97" y1="1249.88" x2="1103.97" y2="1259.36" stroke="#000" stroke-width="2.9"/>
<line x1="1100.97" y1="1249.88" x2="1106.97" y2="1249.88" stroke="#000" stroke-width="3"/>
<line x1="1100.97" y1="1259.36" x2="1106.97" y2="1259.36" stroke="#000" stroke-width="3"/>
<line x1="1138.27" y1="1252.72" x2="1138.27" y2="1264.11" stroke="#000" stroke-width="2.9"/>
<line x1="1135.27" y1="1252.72" x2="1141.27" y2="1252.72" stroke="#000" stroke-width="3"/>
<line x1="1135.27" y1="1264.11" x2="1141.27" y2="1264.11" stroke="#000" stroke-width="3"/>
<text x="1061.60" y="1420.60" font-size="23.5" font-weight="bold" text-anchor="middle">Methylation (Log<tspan font-size="16.0" dy="5.2">2</tspan><tspan dy="-5.2"> vs Control)</tspan></text>
<line x1="283.35" y1="1466.40" x2="283.35" y2="1748.00" stroke="#000" stroke-width="2" stroke-dasharray="1.9 2.3"/>
<line x1="142.80" y1="1654.13" x2="424.90" y2="1654.13" stroke="#000" stroke-width="2" stroke-dasharray="1.9 2.3"/>
<rect x="140.80" y="1464.40" width="285.10" height="284.60" fill="none" stroke="#000" stroke-width="3"/>
<line x1="133.30" y1="1464.40" x2="140.80" y2="1464.40" stroke="#000" stroke-width="3"/>
<text x="129.80" y="1472.10" font-size="21.5" font-weight="bold" text-anchor="end" fill="#000" transform="matrix(1 0 0 1.07 0 -102.508)">0.4</text>
<line x1="133.30" y1="1511.83" x2="140.80" y2="1511.83" stroke="#000" stroke-width="3"/>
<text x="129.80" y="1519.53" font-size="21.5" font-weight="bold" text-anchor="end" fill="#000" transform="matrix(1 0 0 1.07 0 -105.828)">0.3</text>
<line x1="133.30" y1="1559.27" x2="140.80" y2="1559.27" stroke="#000" stroke-width="3"/>
<text x="129.80" y="1566.96" font-size="21.5" font-weight="bold" text-anchor="end" fill="#000" transform="matrix(1 0 0 1.07 0 -109.149)">0.2</text>
<line x1="133.30" y1="1606.70" x2="140.80" y2="1606.70" stroke="#000" stroke-width="3"/>
<text x="129.80" y="1614.40" font-size="21.5" font-weight="bold" text-anchor="end" fill="#000" transform="matrix(1 0 0 1.07 0 -112.469)">0.1</text>
<line x1="133.30" y1="1654.13" x2="140.80" y2="1654.13" stroke="#000" stroke-width="3"/>
<text x="129.80" y="1661.83" font-size="21.5" font-weight="bold" text-anchor="end" fill="#000" transform="matrix(1 0 0 1.07 0 -115.789)">0.0</text>
<line x1="133.30" y1="1701.57" x2="140.80" y2="1701.57" stroke="#000" stroke-width="3"/>
<text x="129.80" y="1709.26" font-size="21.5" font-weight="bold" text-anchor="end" fill="#000" transform="matrix(1 0 0 1.07 0 -119.110)">-0.1</text>
<line x1="133.30" y1="1749.00" x2="140.80" y2="1749.00" stroke="#000" stroke-width="3"/>
<text x="129.80" y="1756.70" font-size="21.5" font-weight="bold" text-anchor="end" fill="#000" transform="matrix(1 0 0 1.07 0 -122.430)">-0.2</text>
<line x1="140.80" y1="1749.00" x2="140.80" y2="1756.50" stroke="#000" stroke-width="3"/>
<text x="140.80" y="1781.30" font-size="21.5" font-weight="bold" text-anchor="middle" fill="#000" transform="matrix(1 0 0 1.07 0 -124.152)">-2</text>
<line x1="212.07" y1="1749.00" x2="212.07" y2="1756.50" stroke="#000" stroke-width="3"/>
<text x="212.07" y="1781.30" font-size="21.5" font-weight="bold" text-anchor="middle" fill="#000" transform="matrix(1 0 0 1.07 0 -124.152)">-1</text>
<line x1="283.35" y1="1749.00" x2="283.35" y2="1756.50" stroke="#000" stroke-width="3"/>
<text x="283.35" y="1781.30" font-size="21.5" font-weight="bold" text-anchor="middle" fill="#000" transform="matrix(1 0 0 1.07 0 -124.152)">0</text>
<line x1="354.62" y1="1749.00" x2="354.62" y2="1756.50" stroke="#000" stroke-width="3"/>
<text x="354.62" y="1781.30" font-size="21.5" font-weight="bold" text-anchor="middle" fill="#000" transform="matrix(1 0 0 1.07 0 -124.152)">1</text>
<line x1="425.90" y1="1749.00" x2="425.90" y2="1756.50" stroke="#000" stroke-width="3"/>
<text x="425.90" y="1781.30" font-size="21.5" font-weight="bold" text-anchor="middle" fill="#000" transform="matrix(1 0 0 1.07 0 -124.152)">2</text>
<path d="M174.30,1609.07 L213.50,1648.44 L227.76,1627.10 L237.02,1663.62 L242.72,1656.51 L247.71,1680.22 L251.28,1668.36 L254.84,1668.36 L258.40,1665.99 L261.97,1670.74 L265.53,1673.11 L269.10,1665.99 L272.66,1673.11 L276.22,1670.74 L279.79,1654.13 L283.35,1677.85 L286.91,1663.62 L291.90,1675.48 L301.17,1673.11 L313.29,1677.85 L347.50,1664.57" fill="none" stroke="#000" stroke-width="3" stroke-linejoin="round"/>
<line x1="174.30" y1="1594.84" x2="174.30" y2="1623.30" stroke="#000" stroke-width="2.9"/>
<line x1="171.30" y1="1594.84" x2="177.30" y2="1594.84" stroke="#000" stroke-width="3"/>
<line x1="171.30" y1="1623.30" x2="177.30" y2="1623.30" stroke="#000" stroke-width="3"/>
<line x1="213.50" y1="1635.16" x2="213.50" y2="1661.72" stroke="#000" stroke-width="2.9"/>
<line x1="210.50" y1="1635.16" x2="216.50" y2="1635.16" stroke="#000" stroke-width="3"/>
<line x1="210.50" y1="1661.72" x2="216.50" y2="1661.72" stroke="#000" stroke-width="3"/>
<line x1="227.76" y1="1616.66" x2="227.76" y2="1637.53" stroke="#000" stroke-width="2.9"/>
<line x1="224.76" y1="1616.66" x2="230.76" y2="1616.66" stroke="#000" stroke-width="3"/>
<line x1="224.76" y1="1637.53" x2="230.76" y2="1637.53" stroke="#000" stroke-width="3"/>
<line x1="237.02" y1="1649.39" x2="237.02" y2="1677.85" stroke="#000" stroke-width="2.9"/>
<line x1="234.02" y1="1649.39" x2="240.02" y2="1649.39" stroke="#000" stroke-width="3"/>
<line x1="234.02" y1="1677.85" x2="240.02" y2="1677.85" stroke="#000" stroke-width="3"/>
<line x1="242.72" y1="1647.02" x2="242.72" y2="1665.99" stroke="#000" stroke-width="2.9"/>
<line x1="239.72" y1="1647.02" x2="245.72" y2="1647.02" stroke="#000" stroke-width="3"/>
<line x1="239.72" y1="1665.99" x2="245.72" y2="1665.99" stroke="#000" stroke-width="3"/>
<line x1="247.71" y1="1663.62" x2="247.71" y2="1696.82" stroke="#000" stroke-width="2.9"/>
<line x1="244.71" y1="1663.62" x2="250.71" y2="1663.62" stroke="#000" stroke-width="3"/>
<line x1="244.71" y1="1696.82" x2="250.71" y2="1696.82" stroke="#000" stroke-width="3"/>
<line x1="251.28" y1="1661.25" x2="251.28" y2="1675.48" stroke="#000" stroke-width="2.9"/>
<line x1="248.28" y1="1661.25" x2="254.28" y2="1661.25" stroke="#000" stroke-width="3"/>
<line x1="248.28" y1="1675.48" x2="254.28" y2="1675.48" stroke="#000" stroke-width="3"/>
<line x1="254.84" y1="1661.25" x2="254.84" y2="1675.48" stroke="#000" stroke-width="2.9"/>
<line x1="251.84" y1="1661.25" x2="257.84" y2="1661.25" stroke="#000" stroke-width="3"/>
<line x1="251.84" y1="1675.48" x2="257.84" y2="1675.48" stroke="#000" stroke-width="3"/>
<line x1="258.40" y1="1657.45" x2="258.40" y2="1674.53" stroke="#000" stroke-width="2.9"/>
<line x1="255.40" y1="1657.45" x2="261.40" y2="1657.45" stroke="#000" stroke-width="3"/>
<line x1="255.40" y1="1674.53" x2="261.40" y2="1674.53" stroke="#000" stroke-width="3"/>
<line x1="261.97" y1="1661.25" x2="261.97" y2="1680.22" stroke="#000" stroke-width="2.9"/>
<line x1="258.97" y1="1661.25" x2="264.97" y2="1661.25" stroke="#000" stroke-width="3"/>
<line x1="258.97" y1="1680.22" x2="264.97" y2="1680.22" stroke="#000" stroke-width="3"/>
<line x1="265.53" y1="1663.62" x2="265.53" y2="1682.59" stroke="#000" stroke-width="2.9"/>
<line x1="262.53" y1="1663.62" x2="268.53" y2="1663.62" stroke="#000" stroke-width="3"/>
<line x1="262.53" y1="1682.59" x2="268.53" y2="1682.59" stroke="#000" stroke-width="3"/>
<line x1="269.10" y1="1647.02" x2="269.10" y2="1684.97" stroke="#000" stroke-width="2.9"/>
<line x1="266.10" y1="1647.02" x2="272.10" y2="1647.02" stroke="#000" stroke-width="3"/>
<line x1="266.10" y1="1684.97" x2="272.10" y2="1684.97" stroke="#000" stroke-width="3"/>
<line x1="272.66" y1="1663.62" x2="272.66" y2="1682.59" stroke="#000" stroke-width="2.9"/>
<line x1="269.66" y1="1663.62" x2="275.66" y2="1663.62" stroke="#000" stroke-width="3"/>
<line x1="269.66" y1="1682.59" x2="275.66" y2="1682.59" stroke="#000" stroke-width="3"/>
<line x1="276.22" y1="1661.25" x2="276.22" y2="1680.22" stroke="#000" stroke-width="2.9"/>
<line x1="273.22" y1="1661.25" x2="279.22" y2="1661.25" stroke="#000" stroke-width="3"/>
<line x1="273.22" y1="1680.22" x2="279.22" y2="1680.22" stroke="#000" stroke-width="3"/>
<line x1="279.79" y1="1635.16" x2="279.79" y2="1673.11" stroke="#000" stroke-width="2.9"/>
<line x1="276.79" y1="1635.16" x2="282.79" y2="1635.16" stroke="#000" stroke-width="3"/>
<line x1="276.79" y1="1673.11" x2="282.79" y2="1673.11" stroke="#000" stroke-width="3"/>
<line x1="283.35" y1="1665.99" x2="283.35" y2="1689.71" stroke="#000" stroke-width="2.9"/>
<line x1="280.35" y1="1665.99" x2="286.35" y2="1665.99" stroke="#000" stroke-width="3"/>
<line x1="280.35" y1="1689.71" x2="286.35" y2="1689.71" stroke="#000" stroke-width="3"/>
<line x1="286.91" y1="1654.13" x2="286.91" y2="1673.11" stroke="#000" stroke-width="2.9"/>
<line x1="283.91" y1="1654.13" x2="289.91" y2="1654.13" stroke="#000" stroke-width="3"/>
<line x1="283.91" y1="1673.11" x2="289.91" y2="1673.11" stroke="#000" stroke-width="3"/>
<line x1="291.90" y1="1665.99" x2="291.90" y2="1684.97" stroke="#000" stroke-width="2.9"/>
<line x1="288.90" y1="1665.99" x2="294.90" y2="1665.99" stroke="#000" stroke-width="3"/>
<line x1="288.90" y1="1684.97" x2="294.90" y2="1684.97" stroke="#000" stroke-width="3"/>
<line x1="301.17" y1="1663.62" x2="301.17" y2="1682.59" stroke="#000" stroke-width="2.9"/>
<line x1="298.17" y1="1663.62" x2="304.17" y2="1663.62" stroke="#000" stroke-width="3"/>
<line x1="298.17" y1="1682.59" x2="304.17" y2="1682.59" stroke="#000" stroke-width="3"/>
<line x1="313.29" y1="1670.74" x2="313.29" y2="1684.97" stroke="#000" stroke-width="2.9"/>
<line x1="310.29" y1="1670.74" x2="316.29" y2="1670.74" stroke="#000" stroke-width="3"/>
<line x1="310.29" y1="1684.97" x2="316.29" y2="1684.97" stroke="#000" stroke-width="3"/>
<line x1="347.50" y1="1654.13" x2="347.50" y2="1675.00" stroke="#000" stroke-width="2.9"/>
<line x1="344.50" y1="1654.13" x2="350.50" y2="1654.13" stroke="#000" stroke-width="3"/>
<line x1="344.50" y1="1675.00" x2="350.50" y2="1675.00" stroke="#000" stroke-width="3"/>
<text x="283.85" y="1813.00" font-size="23.5" font-weight="bold" text-anchor="middle">Methylation (Log<tspan font-size="16.0" dy="5.2">2</tspan><tspan dy="-5.2"> vs Control)</tspan></text>
<text x="77.81" y="1606.70" font-size="23.5" font-weight="bold" text-anchor="middle" transform="rotate(-90 77.81 1606.70)">Expression (Log<tspan font-size="16.0" dy="5.2">2</tspan><tspan dy="-5.2"> vs Control)</tspan></text>
<line x1="673.70" y1="1472.50" x2="673.70" y2="1753.80" stroke="#000" stroke-width="2" stroke-dasharray="1.9 2.3"/>
<line x1="533.40" y1="1660.03" x2="815.00" y2="1660.03" stroke="#000" stroke-width="2" stroke-dasharray="1.9 2.3"/>
<rect x="531.40" y="1470.50" width="284.60" height="284.30" fill="none" stroke="#000" stroke-width="3"/>
<line x1="523.90" y1="1470.50" x2="531.40" y2="1470.50" stroke="#000" stroke-width="3"/>
<text x="520.40" y="1478.20" font-size="21.5" font-weight="bold" text-anchor="end" fill="#000" transform="matrix(1 0 0 1.07 0 -102.935)">0.4</text>
<line x1="523.90" y1="1517.88" x2="531.40" y2="1517.88" stroke="#000" stroke-width="3"/>
<text x="520.40" y="1525.58" font-size="21.5" font-weight="bold" text-anchor="end" fill="#000" transform="matrix(1 0 0 1.07 0 -106.252)">0.3</text>
<line x1="523.90" y1="1565.27" x2="531.40" y2="1565.27" stroke="#000" stroke-width="3"/>
<text x="520.40" y="1572.96" font-size="21.5" font-weight="bold" text-anchor="end" fill="#000" transform="matrix(1 0 0 1.07 0 -109.569)">0.2</text>
<line x1="523.90" y1="1612.65" x2="531.40" y2="1612.65" stroke="#000" stroke-width="3"/>
<text x="520.40" y="1620.35" font-size="21.5" font-weight="bold" text-anchor="end" fill="#000" transform="matrix(1 0 0 1.07 0 -112.886)">0.1</text>
<line x1="523.90" y1="1660.03" x2="531.40" y2="1660.03" stroke="#000" stroke-width="3"/>
<text x="520.40" y="1667.73" font-size="21.5" font-weight="bold" text-anchor="end" fill="#000" transform="matrix(1 0 0 1.07 0 -116.202)">0.0</text>
<line x1="523.90" y1="1707.42" x2="531.40" y2="1707.42" stroke="#000" stroke-width="3"/>
<text x="520.40" y="1715.11" font-size="21.5" font-weight="bold" text-anchor="end" fill="#000" transform="matrix(1 0 0 1.07 0 -119.519)">-0.1</text>
<line x1="523.90" y1="1754.80" x2="531.40" y2="1754.80" stroke="#000" stroke-width="3"/>
<text x="520.40" y="1762.50" font-size="21.5" font-weight="bold" text-anchor="end" fill="#000" transform="matrix(1 0 0 1.07 0 -122.836)">-0.2</text>
<line x1="531.40" y1="1754.80" x2="531.40" y2="1762.30" stroke="#000" stroke-width="3"/>
<text x="531.40" y="1787.10" font-size="21.5" font-weight="bold" text-anchor="middle" fill="#000" transform="matrix(1 0 0 1.07 0 -124.558)">-2</text>
<line x1="602.55" y1="1754.80" x2="602.55" y2="1762.30" stroke="#000" stroke-width="3"/>
<text x="602.55" y="1787.10" font-size="21.5" font-weight="bold" text-anchor="middle" fill="#000" transform="matrix(1 0 0 1.07 0 -124.558)">-1</text>
<line x1="673.70" y1="1754.80" x2="673.70" y2="1762.30" stroke="#000" stroke-width="3"/>
<text x="673.70" y="1787.10" font-size="21.5" font-weight="bold" text-anchor="middle" fill="#000" transform="matrix(1 0 0 1.07 0 -124.558)">0</text>
<line x1="744.85" y1="1754.80" x2="744.85" y2="1762.30" stroke="#000" stroke-width="3"/>
<text x="744.85" y="1787.10" font-size="21.5" font-weight="bold" text-anchor="middle" fill="#000" transform="matrix(1 0 0 1.07 0 -124.558)">1</text>
<line x1="816.00" y1="1754.80" x2="816.00" y2="1762.30" stroke="#000" stroke-width="3"/>
<text x="816.00" y="1787.10" font-size="21.5" font-weight="bold" text-anchor="middle" fill="#000" transform="matrix(1 0 0 1.07 0 -124.558)">2</text>
<path d="M586.19,1662.88 L622.47,1663.35 L634.57,1669.51 L641.68,1664.77 L647.37,1630.66 L652.36,1674.25 L655.91,1669.51 L659.47,1655.30 L663.03,1657.66 L666.59,1650.56 L670.14,1678.99 L673.70,1669.51 L677.26,1662.40 L682.24,1669.51 L686.51,1667.14 L691.49,1671.88 L695.04,1678.99 L702.16,1676.62 L714.97,1667.14 L748.41,1683.25" fill="none" stroke="#000" stroke-width="3" stroke-linejoin="round"/>
<line x1="586.19" y1="1653.40" x2="586.19" y2="1672.35" stroke="#000" stroke-width="2.9"/>
<line x1="583.19" y1="1653.40" x2="589.19" y2="1653.40" stroke="#000" stroke-width="3"/>
<line x1="583.19" y1="1672.35" x2="589.19" y2="1672.35" stroke="#000" stroke-width="3"/>
<line x1="622.47" y1="1653.87" x2="622.47" y2="1672.83" stroke="#000" stroke-width="2.9"/>
<line x1="619.47" y1="1653.87" x2="625.47" y2="1653.87" stroke="#000" stroke-width="3"/>
<line x1="619.47" y1="1672.83" x2="625.47" y2="1672.83" stroke="#000" stroke-width="3"/>
<line x1="634.57" y1="1656.24" x2="634.57" y2="1682.78" stroke="#000" stroke-width="2.9"/>
<line x1="631.57" y1="1656.24" x2="637.57" y2="1656.24" stroke="#000" stroke-width="3"/>
<line x1="631.57" y1="1682.78" x2="637.57" y2="1682.78" stroke="#000" stroke-width="3"/>
<line x1="641.68" y1="1655.30" x2="641.68" y2="1674.25" stroke="#000" stroke-width="2.9"/>
<line x1="638.68" y1="1655.30" x2="644.68" y2="1655.30" stroke="#000" stroke-width="3"/>
<line x1="638.68" y1="1674.25" x2="644.68" y2="1674.25" stroke="#000" stroke-width="3"/>
<line x1="647.37" y1="1621.18" x2="647.37" y2="1640.13" stroke="#000" stroke-width="2.9"/>
<line x1="644.37" y1="1621.18" x2="650.37" y2="1621.18" stroke="#000" stroke-width="3"/>
<line x1="644.37" y1="1640.13" x2="650.37" y2="1640.13" stroke="#000" stroke-width="3"/>
<line x1="652.36" y1="1662.40" x2="652.36" y2="1686.09" stroke="#000" stroke-width="2.9"/>
<line x1="649.36" y1="1662.40" x2="655.36" y2="1662.40" stroke="#000" stroke-width="3"/>
<line x1="649.36" y1="1686.09" x2="655.36" y2="1686.09" stroke="#000" stroke-width="3"/>
<line x1="655.91" y1="1662.40" x2="655.91" y2="1676.62" stroke="#000" stroke-width="2.9"/>
<line x1="652.91" y1="1662.40" x2="658.91" y2="1662.40" stroke="#000" stroke-width="3"/>
<line x1="652.91" y1="1676.62" x2="658.91" y2="1676.62" stroke="#000" stroke-width="3"/>
<line x1="659.47" y1="1645.82" x2="659.47" y2="1664.77" stroke="#000" stroke-width="2.9"/>
<line x1="656.47" y1="1645.82" x2="662.47" y2="1645.82" stroke="#000" stroke-width="3"/>
<line x1="656.47" y1="1664.77" x2="662.47" y2="1664.77" stroke="#000" stroke-width="3"/>
<line x1="663.03" y1="1648.19" x2="663.03" y2="1667.14" stroke="#000" stroke-width="2.9"/>
<line x1="660.03" y1="1648.19" x2="666.03" y2="1648.19" stroke="#000" stroke-width="3"/>
<line x1="660.03" y1="1667.14" x2="666.03" y2="1667.14" stroke="#000" stroke-width="3"/>
<line x1="666.59" y1="1636.34" x2="666.59" y2="1664.77" stroke="#000" stroke-width="2.9"/>
<line x1="663.59" y1="1636.34" x2="669.59" y2="1636.34" stroke="#000" stroke-width="3"/>
<line x1="663.59" y1="1664.77" x2="669.59" y2="1664.77" stroke="#000" stroke-width="3"/>
<line x1="670.14" y1="1667.14" x2="670.14" y2="1690.83" stroke="#000" stroke-width="2.9"/>
<line x1="667.14" y1="1667.14" x2="673.14" y2="1667.14" stroke="#000" stroke-width="3"/>
<line x1="667.14" y1="1690.83" x2="673.14" y2="1690.83" stroke="#000" stroke-width="3"/>
<line x1="673.70" y1="1662.40" x2="673.70" y2="1676.62" stroke="#000" stroke-width="2.9"/>
<line x1="670.70" y1="1662.40" x2="676.70" y2="1662.40" stroke="#000" stroke-width="3"/>
<line x1="670.70" y1="1676.62" x2="676.70" y2="1676.62" stroke="#000" stroke-width="3"/>
<line x1="677.26" y1="1652.93" x2="677.26" y2="1671.88" stroke="#000" stroke-width="2.9"/>
<line x1="674.26" y1="1652.93" x2="680.26" y2="1652.93" stroke="#000" stroke-width="3"/>
<line x1="674.26" y1="1671.88" x2="680.26" y2="1671.88" stroke="#000" stroke-width="3"/>
<line x1="682.24" y1="1660.03" x2="682.24" y2="1678.99" stroke="#000" stroke-width="2.9"/>
<line x1="679.24" y1="1660.03" x2="685.24" y2="1660.03" stroke="#000" stroke-width="3"/>
<line x1="679.24" y1="1678.99" x2="685.24" y2="1678.99" stroke="#000" stroke-width="3"/>
<line x1="686.51" y1="1657.66" x2="686.51" y2="1676.62" stroke="#000" stroke-width="2.9"/>
<line x1="683.51" y1="1657.66" x2="689.51" y2="1657.66" stroke="#000" stroke-width="3"/>
<line x1="683.51" y1="1676.62" x2="689.51" y2="1676.62" stroke="#000" stroke-width="3"/>
<line x1="691.49" y1="1662.40" x2="691.49" y2="1681.36" stroke="#000" stroke-width="2.9"/>
<line x1="688.49" y1="1662.40" x2="694.49" y2="1662.40" stroke="#000" stroke-width="3"/>
<line x1="688.49" y1="1681.36" x2="694.49" y2="1681.36" stroke="#000" stroke-width="3"/>
<line x1="695.04" y1="1671.88" x2="695.04" y2="1686.09" stroke="#000" stroke-width="2.9"/>
<line x1="692.04" y1="1671.88" x2="698.04" y2="1671.88" stroke="#000" stroke-width="3"/>
<line x1="692.04" y1="1686.09" x2="698.04" y2="1686.09" stroke="#000" stroke-width="3"/>
<line x1="702.16" y1="1669.51" x2="702.16" y2="1683.72" stroke="#000" stroke-width="2.9"/>
<line x1="699.16" y1="1669.51" x2="705.16" y2="1669.51" stroke="#000" stroke-width="3"/>
<line x1="699.16" y1="1683.72" x2="705.16" y2="1683.72" stroke="#000" stroke-width="3"/>
<line x1="714.97" y1="1660.03" x2="714.97" y2="1674.25" stroke="#000" stroke-width="2.9"/>
<line x1="711.97" y1="1660.03" x2="717.97" y2="1660.03" stroke="#000" stroke-width="3"/>
<line x1="711.97" y1="1674.25" x2="717.97" y2="1674.25" stroke="#000" stroke-width="3"/>
<line x1="748.41" y1="1677.57" x2="748.41" y2="1688.94" stroke="#000" stroke-width="2.9"/>
<line x1="745.41" y1="1677.57" x2="751.41" y2="1677.57" stroke="#000" stroke-width="3"/>
<line x1="745.41" y1="1688.94" x2="751.41" y2="1688.94" stroke="#000" stroke-width="3"/>
<text x="674.20" y="1818.80" font-size="23.5" font-weight="bold" text-anchor="middle">Methylation (Log<tspan font-size="16.0" dy="5.2">2</tspan><tspan dy="-5.2"> vs Control)</tspan></text>
<line x1="1062.90" y1="1468.80" x2="1062.90" y2="1750.40" stroke="#000" stroke-width="2" stroke-dasharray="1.9 2.3"/>
<line x1="922.60" y1="1656.53" x2="1204.20" y2="1656.53" stroke="#000" stroke-width="2" stroke-dasharray="1.9 2.3"/>
<rect x="920.60" y="1466.80" width="284.60" height="284.60" fill="none" stroke="#000" stroke-width="3"/>
<line x1="913.10" y1="1466.80" x2="920.60" y2="1466.80" stroke="#000" stroke-width="3"/>
<text x="909.60" y="1474.50" font-size="21.5" font-weight="bold" text-anchor="end" fill="#000" transform="matrix(1 0 0 1.07 0 -102.676)">0.4</text>
<line x1="913.10" y1="1514.23" x2="920.60" y2="1514.23" stroke="#000" stroke-width="3"/>
<text x="909.60" y="1521.93" font-size="21.5" font-weight="bold" text-anchor="end" fill="#000" transform="matrix(1 0 0 1.07 0 -105.996)">0.3</text>
<line x1="913.10" y1="1561.67" x2="920.60" y2="1561.67" stroke="#000" stroke-width="3"/>
<text x="909.60" y="1569.36" font-size="21.5" font-weight="bold" text-anchor="end" fill="#000" transform="matrix(1 0 0 1.07 0 -109.317)">0.2</text>
<line x1="913.10" y1="1609.10" x2="920.60" y2="1609.10" stroke="#000" stroke-width="3"/>
<text x="909.60" y="1616.80" font-size="21.5" font-weight="bold" text-anchor="end" fill="#000" transform="matrix(1 0 0 1.07 0 -112.637)">0.1</text>
<line x1="913.10" y1="1656.53" x2="920.60" y2="1656.53" stroke="#000" stroke-width="3"/>
<text x="909.60" y="1664.23" font-size="21.5" font-weight="bold" text-anchor="end" fill="#000" transform="matrix(1 0 0 1.07 0 -115.957)">0.0</text>
<line x1="913.10" y1="1703.97" x2="920.60" y2="1703.97" stroke="#000" stroke-width="3"/>
<text x="909.60" y="1711.66" font-size="21.5" font-weight="bold" text-anchor="end" fill="#000" transform="matrix(1 0 0 1.07 0 -119.278)">-0.1</text>
<line x1="913.10" y1="1751.40" x2="920.60" y2="1751.40" stroke="#000" stroke-width="3"/>
<text x="909.60" y="1759.10" font-size="21.5" font-weight="bold" text-anchor="end" fill="#000" transform="matrix(1 0 0 1.07 0 -122.598)">-0.2</text>
<line x1="920.60" y1="1751.40" x2="920.60" y2="1758.90" stroke="#000" stroke-width="3"/>
<text x="920.60" y="1783.70" font-size="21.5" font-weight="bold" text-anchor="middle" fill="#000" transform="matrix(1 0 0 1.07 0 -124.320)">-2</text>
<line x1="991.75" y1="1751.40" x2="991.75" y2="1758.90" stroke="#000" stroke-width="3"/>
<text x="991.75" y="1783.70" font-size="21.5" font-weight="bold" text-anchor="middle" fill="#000" transform="matrix(1 0 0 1.07 0 -124.320)">-1</text>
<line x1="1062.90" y1="1751.40" x2="1062.90" y2="1758.90" stroke="#000" stroke-width="3"/>
<text x="1062.90" y="1783.70" font-size="21.5" font-weight="bold" text-anchor="middle" fill="#000" transform="matrix(1 0 0 1.07 0 -124.320)">0</text>
<line x1="1134.05" y1="1751.40" x2="1134.05" y2="1758.90" stroke="#000" stroke-width="3"/>
<text x="1134.05" y="1783.70" font-size="21.5" font-weight="bold" text-anchor="middle" fill="#000" transform="matrix(1 0 0 1.07 0 -124.320)">1</text>
<line x1="1205.20" y1="1751.40" x2="1205.20" y2="1758.90" stroke="#000" stroke-width="3"/>
<text x="1205.20" y="1783.70" font-size="21.5" font-weight="bold" text-anchor="middle" fill="#000" transform="matrix(1 0 0 1.07 0 -124.320)">2</text>
<path d="M949.06,1535.58 L988.90,1627.12 L1004.56,1634.71 L1016.65,1629.02 L1027.33,1655.11 L1034.44,1668.39 L1041.56,1666.02 L1045.11,1677.88 L1048.67,1689.74 L1052.23,1703.97 L1055.79,1689.74 L1059.34,1694.48 L1062.90,1699.22 L1065.03,1692.11 L1068.59,1708.71 L1073.57,1675.51 L1077.13,1680.25 L1080.69,1689.74 L1086.38,1675.51 L1092.78,1713.45 L1104.17,1689.74 L1137.61,1699.22" fill="none" stroke="#000" stroke-width="3" stroke-linejoin="round"/>
<line x1="949.06" y1="1514.23" x2="949.06" y2="1556.92" stroke="#000" stroke-width="2.9"/>
<line x1="946.06" y1="1514.23" x2="952.06" y2="1514.23" stroke="#000" stroke-width="3"/>
<line x1="946.06" y1="1556.92" x2="952.06" y2="1556.92" stroke="#000" stroke-width="3"/>
<line x1="988.90" y1="1606.73" x2="988.90" y2="1647.52" stroke="#000" stroke-width="2.9"/>
<line x1="985.90" y1="1606.73" x2="991.90" y2="1606.73" stroke="#000" stroke-width="3"/>
<line x1="985.90" y1="1647.52" x2="991.90" y2="1647.52" stroke="#000" stroke-width="3"/>
<line x1="1004.56" y1="1614.79" x2="1004.56" y2="1654.64" stroke="#000" stroke-width="2.9"/>
<line x1="1001.56" y1="1614.79" x2="1007.56" y2="1614.79" stroke="#000" stroke-width="3"/>
<line x1="1001.56" y1="1654.64" x2="1007.56" y2="1654.64" stroke="#000" stroke-width="3"/>
<line x1="1016.65" y1="1610.05" x2="1016.65" y2="1648.00" stroke="#000" stroke-width="2.9"/>
<line x1="1013.65" y1="1610.05" x2="1019.65" y2="1610.05" stroke="#000" stroke-width="3"/>
<line x1="1013.65" y1="1648.00" x2="1019.65" y2="1648.00" stroke="#000" stroke-width="3"/>
<line x1="1027.33" y1="1637.09" x2="1027.33" y2="1673.13" stroke="#000" stroke-width="2.9"/>
<line x1="1024.33" y1="1637.09" x2="1030.33" y2="1637.09" stroke="#000" stroke-width="3"/>
<line x1="1024.33" y1="1673.13" x2="1030.33" y2="1673.13" stroke="#000" stroke-width="3"/>
<line x1="1034.44" y1="1651.79" x2="1034.44" y2="1684.99" stroke="#000" stroke-width="2.9"/>
<line x1="1031.44" y1="1651.79" x2="1037.44" y2="1651.79" stroke="#000" stroke-width="3"/>
<line x1="1031.44" y1="1684.99" x2="1037.44" y2="1684.99" stroke="#000" stroke-width="3"/>
<line x1="1041.56" y1="1649.42" x2="1041.56" y2="1682.62" stroke="#000" stroke-width="2.9"/>
<line x1="1038.56" y1="1649.42" x2="1044.56" y2="1649.42" stroke="#000" stroke-width="3"/>
<line x1="1038.56" y1="1682.62" x2="1044.56" y2="1682.62" stroke="#000" stroke-width="3"/>
<line x1="1045.11" y1="1670.76" x2="1045.11" y2="1684.99" stroke="#000" stroke-width="2.9"/>
<line x1="1042.11" y1="1670.76" x2="1048.11" y2="1670.76" stroke="#000" stroke-width="3"/>
<line x1="1042.11" y1="1684.99" x2="1048.11" y2="1684.99" stroke="#000" stroke-width="3"/>
<line x1="1048.67" y1="1675.51" x2="1048.67" y2="1703.97" stroke="#000" stroke-width="2.9"/>
<line x1="1045.67" y1="1675.51" x2="1051.67" y2="1675.51" stroke="#000" stroke-width="3"/>
<line x1="1045.67" y1="1703.97" x2="1051.67" y2="1703.97" stroke="#000" stroke-width="3"/>
<line x1="1052.23" y1="1680.25" x2="1052.23" y2="1727.68" stroke="#000" stroke-width="2.9"/>
<line x1="1049.23" y1="1680.25" x2="1055.23" y2="1680.25" stroke="#000" stroke-width="3"/>
<line x1="1049.23" y1="1727.68" x2="1055.23" y2="1727.68" stroke="#000" stroke-width="3"/>
<line x1="1055.79" y1="1680.25" x2="1055.79" y2="1699.22" stroke="#000" stroke-width="2.9"/>
<line x1="1052.79" y1="1680.25" x2="1058.79" y2="1680.25" stroke="#000" stroke-width="3"/>
<line x1="1052.79" y1="1699.22" x2="1058.79" y2="1699.22" stroke="#000" stroke-width="3"/>
<line x1="1059.34" y1="1684.99" x2="1059.34" y2="1703.97" stroke="#000" stroke-width="2.9"/>
<line x1="1056.34" y1="1684.99" x2="1062.34" y2="1684.99" stroke="#000" stroke-width="3"/>
<line x1="1056.34" y1="1703.97" x2="1062.34" y2="1703.97" stroke="#000" stroke-width="3"/>
<line x1="1062.90" y1="1687.37" x2="1062.90" y2="1711.08" stroke="#000" stroke-width="2.9"/>
<line x1="1059.90" y1="1687.37" x2="1065.90" y2="1687.37" stroke="#000" stroke-width="3"/>
<line x1="1059.90" y1="1711.08" x2="1065.90" y2="1711.08" stroke="#000" stroke-width="3"/>
<line x1="1065.03" y1="1682.62" x2="1065.03" y2="1701.60" stroke="#000" stroke-width="2.9"/>
<line x1="1062.03" y1="1682.62" x2="1068.03" y2="1682.62" stroke="#000" stroke-width="3"/>
<line x1="1062.03" y1="1701.60" x2="1068.03" y2="1701.60" stroke="#000" stroke-width="3"/>
<line x1="1068.59" y1="1684.99" x2="1068.59" y2="1732.43" stroke="#000" stroke-width="2.9"/>
<line x1="1065.59" y1="1684.99" x2="1071.59" y2="1684.99" stroke="#000" stroke-width="3"/>
<line x1="1065.59" y1="1732.43" x2="1071.59" y2="1732.43" stroke="#000" stroke-width="3"/>
<line x1="1073.57" y1="1661.28" x2="1073.57" y2="1689.74" stroke="#000" stroke-width="2.9"/>
<line x1="1070.57" y1="1661.28" x2="1076.57" y2="1661.28" stroke="#000" stroke-width="3"/>
<line x1="1070.57" y1="1689.74" x2="1076.57" y2="1689.74" stroke="#000" stroke-width="3"/>
<line x1="1077.13" y1="1663.65" x2="1077.13" y2="1696.85" stroke="#000" stroke-width="2.9"/>
<line x1="1074.13" y1="1663.65" x2="1080.13" y2="1663.65" stroke="#000" stroke-width="3"/>
<line x1="1074.13" y1="1696.85" x2="1080.13" y2="1696.85" stroke="#000" stroke-width="3"/>
<line x1="1080.69" y1="1666.02" x2="1080.69" y2="1713.45" stroke="#000" stroke-width="2.9"/>
<line x1="1077.69" y1="1666.02" x2="1083.69" y2="1666.02" stroke="#000" stroke-width="3"/>
<line x1="1077.69" y1="1713.45" x2="1083.69" y2="1713.45" stroke="#000" stroke-width="3"/>
<line x1="1086.38" y1="1654.16" x2="1086.38" y2="1696.85" stroke="#000" stroke-width="2.9"/>
<line x1="1083.38" y1="1654.16" x2="1089.38" y2="1654.16" stroke="#000" stroke-width="3"/>
<line x1="1083.38" y1="1696.85" x2="1089.38" y2="1696.85" stroke="#000" stroke-width="3"/>
<line x1="1092.78" y1="1699.22" x2="1092.78" y2="1727.68" stroke="#000" stroke-width="2.9"/>
<line x1="1089.78" y1="1699.22" x2="1095.78" y2="1699.22" stroke="#000" stroke-width="3"/>
<line x1="1089.78" y1="1727.68" x2="1095.78" y2="1727.68" stroke="#000" stroke-width="3"/>
<line x1="1104.17" y1="1675.51" x2="1104.17" y2="1703.97" stroke="#000" stroke-width="2.9"/>
<line x1="1101.17" y1="1675.51" x2="1107.17" y2="1675.51" stroke="#000" stroke-width="3"/>
<line x1="1101.17" y1="1703.97" x2="1107.17" y2="1703.97" stroke="#000" stroke-width="3"/>
<line x1="1137.61" y1="1684.99" x2="1137.61" y2="1713.45" stroke="#000" stroke-width="2.9"/>
<line x1="1134.61" y1="1684.99" x2="1140.61" y2="1684.99" stroke="#000" stroke-width="3"/>
<line x1="1134.61" y1="1713.45" x2="1140.61" y2="1713.45" stroke="#000" stroke-width="3"/>
<text x="1063.40" y="1815.40" font-size="23.5" font-weight="bold" text-anchor="middle">Methylation (Log<tspan font-size="16.0" dy="5.2">2</tspan><tspan dy="-5.2"> vs Control)</tspan></text>
<text x="1283.00" y="1014.80" font-size="47" font-weight="bold" text-anchor="start" fill="#000">f</text>
<rect x="1429.70" y="1030.60" width="31.10" height="15.40" fill="#FF7F7F"/>
<text x="1478.80" y="1047.11" font-size="23.5" font-weight="bold" text-anchor="start" fill="#000">1680 genes</text>
<rect x="1628.40" y="1030.60" width="30.50" height="15.40" fill="#56A0FC"/>
<text x="1675.90" y="1047.11" font-size="23.5" font-weight="bold" text-anchor="start" fill="#000">All genes</text>
<line x1="1404.50" y1="1071.00" x2="1404.50" y2="1359.40" stroke="#000" stroke-width="3"/>
<line x1="1397.00" y1="1072.50" x2="1404.50" y2="1072.50" stroke="#000" stroke-width="3"/>
<text x="1392.20" y="1080.09" font-size="21.2" font-weight="bold" text-anchor="end" fill="#000" transform="matrix(1 0 0 1.15 0 -160.875)">0.0</text>
<line x1="1397.00" y1="1129.68" x2="1404.50" y2="1129.68" stroke="#000" stroke-width="3"/>
<text x="1392.20" y="1137.27" font-size="21.2" font-weight="bold" text-anchor="end" fill="#000" transform="matrix(1 0 0 1.15 0 -169.452)">-0.3</text>
<line x1="1397.00" y1="1186.86" x2="1404.50" y2="1186.86" stroke="#000" stroke-width="3"/>
<text x="1392.20" y="1194.45" font-size="21.2" font-weight="bold" text-anchor="end" fill="#000" transform="matrix(1 0 0 1.15 0 -178.029)">-0.6</text>
<line x1="1397.00" y1="1244.04" x2="1404.50" y2="1244.04" stroke="#000" stroke-width="3"/>
<text x="1392.20" y="1251.63" font-size="21.2" font-weight="bold" text-anchor="end" fill="#000" transform="matrix(1 0 0 1.15 0 -186.606)">-0.9</text>
<line x1="1397.00" y1="1301.22" x2="1404.50" y2="1301.22" stroke="#000" stroke-width="3"/>
<text x="1392.20" y="1308.81" font-size="21.2" font-weight="bold" text-anchor="end" fill="#000" transform="matrix(1 0 0 1.15 0 -195.183)">-1.2</text>
<line x1="1397.00" y1="1358.40" x2="1404.50" y2="1358.40" stroke="#000" stroke-width="3"/>
<text x="1392.20" y="1365.99" font-size="21.2" font-weight="bold" text-anchor="end" fill="#000" transform="matrix(1 0 0 1.15 0 -203.760)">-1.5</text>
<rect x="1410.80" y="1072.50" width="14.00" height="76.81" fill="#FF7F7F"/>
<rect x="1414.80" y="1148.81" width="6.00" height="3.10" fill="#FF7F7F"/>
<rect x="1431.00" y="1072.50" width="13.50" height="17.92" fill="#56A0FC"/>
<rect x="1434.75" y="1089.92" width="6.00" height="3.10" fill="#56A0FC"/>
<rect x="1465.40" y="1072.50" width="13.10" height="151.15" fill="#FF7F7F"/>
<rect x="1468.95" y="1223.15" width="6.00" height="3.10" fill="#FF7F7F"/>
<rect x="1485.00" y="1072.50" width="13.50" height="58.51" fill="#56A0FC"/>
<rect x="1488.75" y="1130.51" width="6.00" height="3.10" fill="#56A0FC"/>
<rect x="1519.40" y="1072.50" width="13.40" height="9.53" fill="#FF7F7F"/>
<rect x="1523.10" y="1081.53" width="6.00" height="3.10" fill="#FF7F7F"/>
<rect x="1539.40" y="1072.50" width="13.10" height="14.30" fill="#56A0FC"/>
<rect x="1542.95" y="1086.30" width="6.00" height="3.10" fill="#56A0FC"/>
<rect x="1573.40" y="1072.50" width="13.50" height="80.81" fill="#FF7F7F"/>
<rect x="1577.15" y="1152.81" width="6.00" height="3.10" fill="#FF7F7F"/>
<rect x="1594.00" y="1072.50" width="13.20" height="55.27" fill="#56A0FC"/>
<rect x="1597.60" y="1127.27" width="6.00" height="3.10" fill="#56A0FC"/>
<rect x="1627.40" y="1072.50" width="13.50" height="86.72" fill="#FF7F7F"/>
<rect x="1631.15" y="1158.72" width="6.00" height="3.10" fill="#FF7F7F"/>
<rect x="1647.40" y="1072.50" width="13.80" height="35.64" fill="#56A0FC"/>
<rect x="1651.30" y="1107.64" width="6.00" height="3.10" fill="#56A0FC"/>
<rect x="1681.50" y="1072.50" width="13.40" height="22.87" fill="#FF7F7F"/>
<rect x="1685.20" y="1094.87" width="6.00" height="3.10" fill="#FF7F7F"/>
<rect x="1701.40" y="1072.50" width="13.80" height="34.31" fill="#56A0FC"/>
<rect x="1705.30" y="1106.31" width="6.00" height="3.10" fill="#56A0FC"/>
<rect x="1735.50" y="1072.50" width="13.40" height="93.97" fill="#FF7F7F"/>
<rect x="1739.20" y="1165.97" width="6.00" height="3.10" fill="#FF7F7F"/>
<rect x="1756.10" y="1072.50" width="13.10" height="42.50" fill="#56A0FC"/>
<rect x="1759.65" y="1114.50" width="6.00" height="3.10" fill="#56A0FC"/>
<rect x="1789.80" y="1072.50" width="13.80" height="210.04" fill="#FF7F7F"/>
<rect x="1793.70" y="1282.04" width="6.00" height="3.10" fill="#FF7F7F"/>
<rect x="1810.10" y="1072.50" width="13.70" height="82.34" fill="#56A0FC"/>
<rect x="1813.95" y="1154.34" width="6.00" height="3.10" fill="#56A0FC"/>
<line x1="1404.50" y1="1072.50" x2="1831.40" y2="1072.50" stroke="#000" stroke-width="3"/>
<line x1="1427.60" y1="1072.50" x2="1427.60" y2="1080.50" stroke="#000" stroke-width="3"/>
<line x1="1481.10" y1="1072.50" x2="1481.10" y2="1080.50" stroke="#000" stroke-width="3"/>
<line x1="1535.10" y1="1072.50" x2="1535.10" y2="1080.50" stroke="#000" stroke-width="3"/>
<line x1="1589.10" y1="1072.50" x2="1589.10" y2="1080.50" stroke="#000" stroke-width="3"/>
<line x1="1644.10" y1="1072.50" x2="1644.10" y2="1080.50" stroke="#000" stroke-width="3"/>
<line x1="1698.00" y1="1072.50" x2="1698.00" y2="1080.50" stroke="#000" stroke-width="3"/>
<line x1="1751.80" y1="1072.50" x2="1751.80" y2="1080.50" stroke="#000" stroke-width="3"/>
<line x1="1805.90" y1="1072.50" x2="1805.90" y2="1080.50" stroke="#000" stroke-width="3"/>
<text x="1419.60" y="1179.20" font-size="22" font-weight="bold" text-anchor="middle" fill="#000">***</text>
<text x="1472.00" y="1256.10" font-size="22" font-weight="bold" text-anchor="middle" fill="#000">***</text>
<text x="1580.00" y="1182.50" font-size="22" font-weight="bold" text-anchor="middle" fill="#000">***</text>
<text x="1635.60" y="1192.30" font-size="22" font-weight="bold" text-anchor="middle" fill="#000">***</text>
<text x="1744.00" y="1191.60" font-size="22" font-weight="bold" text-anchor="middle" fill="#000">***</text>
<text x="1797.00" y="1304.50" font-size="22" font-weight="bold" text-anchor="middle" fill="#000">***</text>
<text x="1450.00" y="1342.41" font-size="23.5" font-weight="bold" text-anchor="middle" fill="#000">MEF</text>
<text x="1579.30" y="1342.41" font-size="23.5" font-weight="bold" text-anchor="middle" fill="#000">OKMS-Vc-</text>
<text x="1751.20" y="1342.41" font-size="23.5" font-weight="bold" text-anchor="middle" fill="#000">OKMS-Vc+</text>
<line x1="1405.00" y1="1357.90" x2="1501.40" y2="1357.90" stroke="#000" stroke-width="3"/>
<line x1="1517.80" y1="1357.90" x2="1659.50" y2="1357.90" stroke="#000" stroke-width="3"/>
<line x1="1676.90" y1="1357.90" x2="1829.10" y2="1357.90" stroke="#000" stroke-width="3"/>
<text x="1434.13" y="1426.00" font-size="21.3" font-weight="bold" text-anchor="middle" fill="#000" transform="rotate(-90 1434.13 1426.00)">sh-Dnmt1</text>
<text x="1487.63" y="1426.40" font-size="21.3" font-weight="bold" text-anchor="middle" fill="#000" transform="rotate(-90 1487.63 1426.40)">Tet1</text>
<text x="1542.13" y="1432.00" font-size="21.3" font-weight="bold" text-anchor="middle" fill="#000" transform="rotate(-90 1542.13 1432.00)">Contro l</text>
<text x="1596.63" y="1422.40" font-size="21.3" font-weight="bold" text-anchor="middle" fill="#000" transform="rotate(-90 1596.63 1422.40)">sh-Dnmt1</text>
<text x="1650.63" y="1426.40" font-size="21.3" font-weight="bold" text-anchor="middle" fill="#000" transform="rotate(-90 1650.63 1426.40)">Tet1</text>
<text x="1704.13" y="1433.70" font-size="21.3" font-weight="bold" text-anchor="middle" fill="#000" transform="rotate(-90 1704.13 1433.70)">Control</text>
<text x="1758.63" y="1426.00" font-size="21.3" font-weight="bold" text-anchor="middle" fill="#000" transform="rotate(-90 1758.63 1426.00)">sh-Dnmt1</text>
<text x="1812.23" y="1430.20" font-size="21.3" font-weight="bold" text-anchor="middle" fill="#000" transform="rotate(-90 1812.23 1430.20)">Tet1</text>
<text x="1302.91" y="1213.90" font-size="23.5" font-weight="bold" text-anchor="middle" fill="#000" transform="rotate(-90 1302.91 1213.90)">Methylation</text>
<text x="1342.20" y="1202.4" font-size="23.5" font-weight="bold" text-anchor="middle" transform="rotate(-90 1342.20 1202.4)">(Log<tspan font-size="16" dy="5">2</tspan><tspan dy="-5"> ,vs Control in MEF)</tspan></text>
<text x="1283.00" y="1522.00" font-size="47" font-weight="bold" text-anchor="start" fill="#000">g</text>
<rect x="1409.10" y="1792.02" width="13.40" height="9.28" fill="#FF7F7F"/>
<line x1="1415.80" y1="1792.02" x2="1415.80" y2="1785.16" stroke="#FF7F7F" stroke-width="2.6"/>
<line x1="1411.80" y1="1785.16" x2="1419.80" y2="1785.16" stroke="#FF7F7F" stroke-width="2.6"/>
<rect x="1429.70" y="1799.16" width="12.80" height="2.14" fill="#56A0FC"/>
<line x1="1436.10" y1="1799.16" x2="1436.10" y2="1795.59" stroke="#56A0FC" stroke-width="2.6"/>
<line x1="1432.10" y1="1795.59" x2="1440.10" y2="1795.59" stroke="#56A0FC" stroke-width="2.6"/>
<rect x="1463.10" y="1754.18" width="13.40" height="47.12" fill="#FF7F7F"/>
<line x1="1469.80" y1="1754.18" x2="1469.80" y2="1744.89" stroke="#FF7F7F" stroke-width="2.6"/>
<line x1="1465.80" y1="1744.89" x2="1473.80" y2="1744.89" stroke="#FF7F7F" stroke-width="2.6"/>
<rect x="1483.40" y="1784.88" width="13.10" height="16.42" fill="#56A0FC"/>
<line x1="1489.95" y1="1784.88" x2="1489.95" y2="1779.88" stroke="#56A0FC" stroke-width="2.6"/>
<line x1="1485.95" y1="1779.88" x2="1493.95" y2="1779.88" stroke="#56A0FC" stroke-width="2.6"/>
<rect x="1517.10" y="1757.39" width="13.80" height="43.91" fill="#FF7F7F"/>
<line x1="1524.00" y1="1757.39" x2="1524.00" y2="1739.18" stroke="#FF7F7F" stroke-width="2.6"/>
<line x1="1520.00" y1="1739.18" x2="1528.00" y2="1739.18" stroke="#FF7F7F" stroke-width="2.6"/>
<rect x="1537.40" y="1763.89" width="13.50" height="37.41" fill="#56A0FC"/>
<line x1="1544.15" y1="1763.89" x2="1544.15" y2="1754.89" stroke="#56A0FC" stroke-width="2.6"/>
<line x1="1540.15" y1="1754.89" x2="1548.15" y2="1754.89" stroke="#56A0FC" stroke-width="2.6"/>
<rect x="1571.10" y="1745.89" width="13.80" height="55.41" fill="#FF7F7F"/>
<line x1="1578.00" y1="1745.89" x2="1578.00" y2="1722.05" stroke="#FF7F7F" stroke-width="2.6"/>
<line x1="1574.00" y1="1722.05" x2="1582.00" y2="1722.05" stroke="#FF7F7F" stroke-width="2.6"/>
<rect x="1591.40" y="1761.32" width="13.50" height="39.98" fill="#56A0FC"/>
<line x1="1598.15" y1="1761.32" x2="1598.15" y2="1750.61" stroke="#56A0FC" stroke-width="2.6"/>
<line x1="1594.15" y1="1750.61" x2="1602.15" y2="1750.61" stroke="#56A0FC" stroke-width="2.6"/>
<rect x="1625.80" y="1709.19" width="13.40" height="92.11" fill="#FF7F7F"/>
<line x1="1632.50" y1="1709.19" x2="1632.50" y2="1683.49" stroke="#FF7F7F" stroke-width="2.6"/>
<line x1="1628.50" y1="1683.49" x2="1636.50" y2="1683.49" stroke="#FF7F7F" stroke-width="2.6"/>
<rect x="1645.80" y="1769.46" width="13.10" height="31.84" fill="#56A0FC"/>
<line x1="1652.35" y1="1769.46" x2="1652.35" y2="1757.75" stroke="#56A0FC" stroke-width="2.6"/>
<line x1="1648.35" y1="1757.75" x2="1656.35" y2="1757.75" stroke="#56A0FC" stroke-width="2.6"/>
<rect x="1679.80" y="1757.39" width="13.10" height="43.91" fill="#FF7F7F"/>
<line x1="1686.35" y1="1757.39" x2="1686.35" y2="1737.40" stroke="#FF7F7F" stroke-width="2.6"/>
<line x1="1682.35" y1="1737.40" x2="1690.35" y2="1737.40" stroke="#FF7F7F" stroke-width="2.6"/>
<rect x="1699.80" y="1763.46" width="13.70" height="37.84" fill="#56A0FC"/>
<line x1="1706.65" y1="1763.46" x2="1706.65" y2="1754.18" stroke="#56A0FC" stroke-width="2.6"/>
<line x1="1702.65" y1="1754.18" x2="1710.65" y2="1754.18" stroke="#56A0FC" stroke-width="2.6"/>
<rect x="1733.80" y="1762.32" width="13.40" height="38.98" fill="#FF7F7F"/>
<line x1="1740.50" y1="1762.32" x2="1740.50" y2="1736.33" stroke="#FF7F7F" stroke-width="2.6"/>
<line x1="1736.50" y1="1736.33" x2="1744.50" y2="1736.33" stroke="#FF7F7F" stroke-width="2.6"/>
<rect x="1753.80" y="1767.74" width="13.70" height="33.56" fill="#56A0FC"/>
<line x1="1760.65" y1="1767.74" x2="1760.65" y2="1756.32" stroke="#56A0FC" stroke-width="2.6"/>
<line x1="1756.65" y1="1756.32" x2="1764.65" y2="1756.32" stroke="#56A0FC" stroke-width="2.6"/>
<rect x="1787.80" y="1629.44" width="13.50" height="171.86" fill="#FF7F7F"/>
<line x1="1794.55" y1="1629.44" x2="1794.55" y2="1597.10" stroke="#FF7F7F" stroke-width="2.6"/>
<line x1="1790.55" y1="1597.10" x2="1798.55" y2="1597.10" stroke="#FF7F7F" stroke-width="2.6"/>
<rect x="1807.80" y="1781.02" width="13.70" height="20.28" fill="#56A0FC"/>
<line x1="1814.65" y1="1781.02" x2="1814.65" y2="1765.60" stroke="#56A0FC" stroke-width="2.6"/>
<line x1="1810.65" y1="1765.60" x2="1818.65" y2="1765.60" stroke="#56A0FC" stroke-width="2.6"/>
<line x1="1402.60" y1="1514.30" x2="1402.60" y2="1802.80" stroke="#000" stroke-width="3"/>
<line x1="1401.10" y1="1801.30" x2="1829.70" y2="1801.30" stroke="#000" stroke-width="3"/>
<line x1="1395.00" y1="1515.70" x2="1402.60" y2="1515.70" stroke="#000" stroke-width="3"/>
<text x="1391.80" y="1523.58" font-size="22" font-weight="bold" text-anchor="end" fill="#000" transform="matrix(1 0 0 1.12 0 -181.884)">0.4</text>
<line x1="1395.00" y1="1587.10" x2="1402.60" y2="1587.10" stroke="#000" stroke-width="3"/>
<text x="1391.80" y="1594.98" font-size="22" font-weight="bold" text-anchor="end" fill="#000" transform="matrix(1 0 0 1.12 0 -190.452)">0.3</text>
<line x1="1395.00" y1="1658.50" x2="1402.60" y2="1658.50" stroke="#000" stroke-width="3"/>
<text x="1391.80" y="1666.38" font-size="22" font-weight="bold" text-anchor="end" fill="#000" transform="matrix(1 0 0 1.12 0 -199.020)">0.2</text>
<line x1="1395.00" y1="1729.90" x2="1402.60" y2="1729.90" stroke="#000" stroke-width="3"/>
<text x="1391.80" y="1737.78" font-size="22" font-weight="bold" text-anchor="end" fill="#000" transform="matrix(1 0 0 1.12 0 -207.588)">0.1</text>
<line x1="1395.00" y1="1801.30" x2="1402.60" y2="1801.30" stroke="#000" stroke-width="3"/>
<text x="1391.80" y="1809.18" font-size="22" font-weight="bold" text-anchor="end" fill="#000" transform="matrix(1 0 0 1.12 0 -216.156)">0.0</text>
<line x1="1404.20" y1="1515.80" x2="1499.10" y2="1515.80" stroke="#000" stroke-width="3"/>
<line x1="1516.20" y1="1515.80" x2="1657.20" y2="1515.80" stroke="#000" stroke-width="3"/>
<line x1="1675.20" y1="1515.80" x2="1827.10" y2="1515.80" stroke="#000" stroke-width="3"/>
<text x="1452.30" y="1547.11" font-size="23.5" font-weight="bold" text-anchor="middle" fill="#000">MEF</text>
<text x="1581.60" y="1547.11" font-size="23.5" font-weight="bold" text-anchor="middle" fill="#000">OKMS-Vc-</text>
<text x="1753.80" y="1547.11" font-size="23.5" font-weight="bold" text-anchor="middle" fill="#000">OKMS-Vc+</text>
<text x="1468.70" y="1743.00" font-size="22" font-weight="bold" text-anchor="middle" fill="#000">*</text>
<text x="1633.30" y="1684.10" font-size="22" font-weight="bold" text-anchor="middle" fill="#000">*</text>
<text x="1795.40" y="1593.10" font-size="22" font-weight="bold" text-anchor="middle" fill="#000">***</text>
<text x="1312.81" y="1650.00" font-size="23.5" font-weight="bold" text-anchor="middle" fill="#000" transform="rotate(-90 1312.81 1650.00)">Expression</text>
<text x="1348.80" y="1653.3" font-size="23.5" font-weight="bold" text-anchor="middle" transform="rotate(-90 1348.80 1653.3)">(Log<tspan font-size="16" dy="5">2</tspan><tspan dy="-5"> ,vs Control in MEF)</tspan></text>
</svg>
</body></html>
